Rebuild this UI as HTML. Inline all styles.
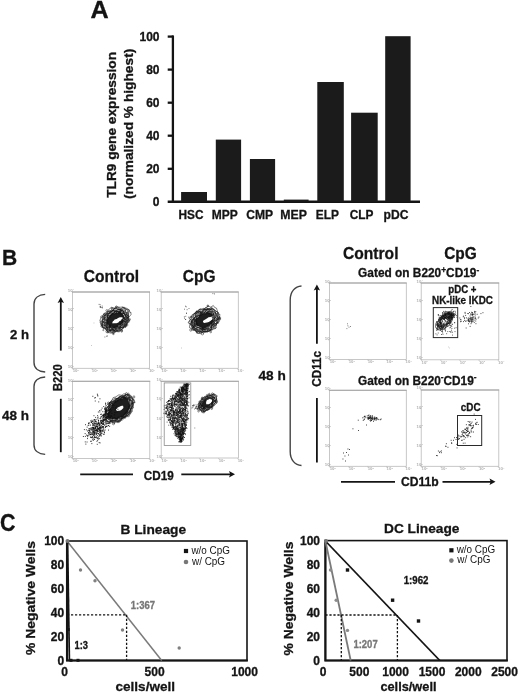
<!DOCTYPE html>
<html><head><meta charset="utf-8"><title>Figure</title>
<style>html,body{margin:0;padding:0;background:#fff}svg{display:block}text{font-family:"Liberation Sans",Arial,sans-serif}</style>
</head><body>
<svg width="520" height="693" viewBox="0 0 520 693">
<rect x="72.4" y="292" width="77.20" height="76.30" fill="#fff" stroke="#bababa" stroke-width="0.8"/>
<path d="M72.0 292 H150.0" stroke="#a2a2a2" stroke-width="1.1"/>
<text x="67.8" y="367.9" font-size="4.3" font-weight="bold" fill="#b0b0b0">10<tspan font-size="2.4" dy="-1.4">0</tspan></text>
<text x="72.7" y="372.2" font-size="4.3" font-weight="bold" fill="#b0b0b0">10<tspan font-size="2.4" dy="-1.4">0</tspan></text>
<text x="67.8" y="348.9" font-size="4.3" font-weight="bold" fill="#b0b0b0">10<tspan font-size="2.4" dy="-1.4">1</tspan></text>
<text x="91.8" y="372.2" font-size="4.3" font-weight="bold" fill="#b0b0b0">10<tspan font-size="2.4" dy="-1.4">1</tspan></text>
<text x="67.8" y="329.8" font-size="4.3" font-weight="bold" fill="#b0b0b0">10<tspan font-size="2.4" dy="-1.4">2</tspan></text>
<text x="110.8" y="372.2" font-size="4.3" font-weight="bold" fill="#b0b0b0">10<tspan font-size="2.4" dy="-1.4">2</tspan></text>
<text x="67.8" y="310.8" font-size="4.3" font-weight="bold" fill="#b0b0b0">10<tspan font-size="2.4" dy="-1.4">3</tspan></text>
<text x="129.9" y="372.2" font-size="4.3" font-weight="bold" fill="#b0b0b0">10<tspan font-size="2.4" dy="-1.4">3</tspan></text>
<text x="67.8" y="291.7" font-size="4.3" font-weight="bold" fill="#b0b0b0">10<tspan font-size="2.4" dy="-1.4">4</tspan></text>
<text x="148.9" y="372.2" font-size="4.3" font-weight="bold" fill="#b0b0b0">10<tspan font-size="2.4" dy="-1.4">4</tspan></text>
<path d="M72.4 367.8h-1.2M72.9 368.3v1.2M72.4 348.8h-1.2M92.0 368.3v1.2M72.4 329.7h-1.2M111.0 368.3v1.2M72.4 310.7h-1.2M130.1 368.3v1.2M72.4 291.6h-1.2M149.1 368.3v1.2" stroke="#b0b0b0" stroke-width="0.6"/>
<rect x="161.2" y="292" width="77.10" height="76.30" fill="#fff" stroke="#bababa" stroke-width="0.8"/>
<path d="M160.79999999999998 292 H238.70000000000002" stroke="#a2a2a2" stroke-width="1.1"/>
<text x="156.6" y="367.9" font-size="4.3" font-weight="bold" fill="#b0b0b0">10<tspan font-size="2.4" dy="-1.4">0</tspan></text>
<text x="161.5" y="372.2" font-size="4.3" font-weight="bold" fill="#b0b0b0">10<tspan font-size="2.4" dy="-1.4">0</tspan></text>
<text x="156.6" y="348.9" font-size="4.3" font-weight="bold" fill="#b0b0b0">10<tspan font-size="2.4" dy="-1.4">1</tspan></text>
<text x="180.5" y="372.2" font-size="4.3" font-weight="bold" fill="#b0b0b0">10<tspan font-size="2.4" dy="-1.4">1</tspan></text>
<text x="156.6" y="329.9" font-size="4.3" font-weight="bold" fill="#b0b0b0">10<tspan font-size="2.4" dy="-1.4">2</tspan></text>
<text x="199.6" y="372.2" font-size="4.3" font-weight="bold" fill="#b0b0b0">10<tspan font-size="2.4" dy="-1.4">2</tspan></text>
<text x="156.6" y="310.8" font-size="4.3" font-weight="bold" fill="#b0b0b0">10<tspan font-size="2.4" dy="-1.4">3</tspan></text>
<text x="218.6" y="372.2" font-size="4.3" font-weight="bold" fill="#b0b0b0">10<tspan font-size="2.4" dy="-1.4">3</tspan></text>
<text x="156.6" y="291.8" font-size="4.3" font-weight="bold" fill="#b0b0b0">10<tspan font-size="2.4" dy="-1.4">4</tspan></text>
<text x="237.6" y="372.2" font-size="4.3" font-weight="bold" fill="#b0b0b0">10<tspan font-size="2.4" dy="-1.4">4</tspan></text>
<path d="M161.2 367.8h-1.2M161.7 368.3v1.2M161.2 348.8h-1.2M180.7 368.3v1.2M161.2 329.8h-1.2M199.8 368.3v1.2M161.2 310.7h-1.2M218.8 368.3v1.2M161.2 291.7h-1.2M237.8 368.3v1.2" stroke="#b0b0b0" stroke-width="0.6"/>
<rect x="72.4" y="381.3" width="77.40" height="77.10" fill="#fff" stroke="#bababa" stroke-width="0.8"/>
<path d="M72.0 381.3 H150.20000000000002" stroke="#a2a2a2" stroke-width="1.1"/>
<text x="67.8" y="458.0" font-size="4.3" font-weight="bold" fill="#b0b0b0">10<tspan font-size="2.4" dy="-1.4">0</tspan></text>
<text x="72.7" y="462.3" font-size="4.3" font-weight="bold" fill="#b0b0b0">10<tspan font-size="2.4" dy="-1.4">0</tspan></text>
<text x="67.8" y="438.9" font-size="4.3" font-weight="bold" fill="#b0b0b0">10<tspan font-size="2.4" dy="-1.4">1</tspan></text>
<text x="91.8" y="462.3" font-size="4.3" font-weight="bold" fill="#b0b0b0">10<tspan font-size="2.4" dy="-1.4">1</tspan></text>
<text x="67.8" y="419.8" font-size="4.3" font-weight="bold" fill="#b0b0b0">10<tspan font-size="2.4" dy="-1.4">2</tspan></text>
<text x="110.9" y="462.3" font-size="4.3" font-weight="bold" fill="#b0b0b0">10<tspan font-size="2.4" dy="-1.4">2</tspan></text>
<text x="67.8" y="400.7" font-size="4.3" font-weight="bold" fill="#b0b0b0">10<tspan font-size="2.4" dy="-1.4">3</tspan></text>
<text x="130.0" y="462.3" font-size="4.3" font-weight="bold" fill="#b0b0b0">10<tspan font-size="2.4" dy="-1.4">3</tspan></text>
<text x="67.8" y="381.6" font-size="4.3" font-weight="bold" fill="#b0b0b0">10<tspan font-size="2.4" dy="-1.4">4</tspan></text>
<text x="149.1" y="462.3" font-size="4.3" font-weight="bold" fill="#b0b0b0">10<tspan font-size="2.4" dy="-1.4">4</tspan></text>
<path d="M72.4 457.9h-1.2M72.9 458.4v1.2M72.4 438.8h-1.2M92.0 458.4v1.2M72.4 419.7h-1.2M111.1 458.4v1.2M72.4 400.6h-1.2M130.2 458.4v1.2M72.4 381.5h-1.2M149.3 458.4v1.2" stroke="#b0b0b0" stroke-width="0.6"/>
<rect x="161.2" y="381.3" width="77.20" height="76.70" fill="#fff" stroke="#bababa" stroke-width="0.8"/>
<path d="M160.79999999999998 381.3 H238.8" stroke="#a2a2a2" stroke-width="1.1"/>
<text x="156.6" y="457.6" font-size="4.3" font-weight="bold" fill="#b0b0b0">10<tspan font-size="2.4" dy="-1.4">0</tspan></text>
<text x="161.5" y="461.9" font-size="4.3" font-weight="bold" fill="#b0b0b0">10<tspan font-size="2.4" dy="-1.4">0</tspan></text>
<text x="156.6" y="438.6" font-size="4.3" font-weight="bold" fill="#b0b0b0">10<tspan font-size="2.4" dy="-1.4">1</tspan></text>
<text x="180.6" y="461.9" font-size="4.3" font-weight="bold" fill="#b0b0b0">10<tspan font-size="2.4" dy="-1.4">1</tspan></text>
<text x="156.6" y="419.5" font-size="4.3" font-weight="bold" fill="#b0b0b0">10<tspan font-size="2.4" dy="-1.4">2</tspan></text>
<text x="199.6" y="461.9" font-size="4.3" font-weight="bold" fill="#b0b0b0">10<tspan font-size="2.4" dy="-1.4">2</tspan></text>
<text x="156.6" y="400.4" font-size="4.3" font-weight="bold" fill="#b0b0b0">10<tspan font-size="2.4" dy="-1.4">3</tspan></text>
<text x="218.7" y="461.9" font-size="4.3" font-weight="bold" fill="#b0b0b0">10<tspan font-size="2.4" dy="-1.4">3</tspan></text>
<text x="156.6" y="381.4" font-size="4.3" font-weight="bold" fill="#b0b0b0">10<tspan font-size="2.4" dy="-1.4">4</tspan></text>
<text x="237.7" y="461.9" font-size="4.3" font-weight="bold" fill="#b0b0b0">10<tspan font-size="2.4" dy="-1.4">4</tspan></text>
<path d="M161.2 457.5h-1.2M161.7 458.0v1.2M161.2 438.4h-1.2M180.8 458.0v1.2M161.2 419.4h-1.2M199.8 458.0v1.2M161.2 400.3h-1.2M218.8 458.0v1.2M161.2 381.3h-1.2M237.9 458.0v1.2" stroke="#b0b0b0" stroke-width="0.6"/>
<rect x="329.4" y="283" width="76.90" height="76.40" fill="#fff" stroke="#bababa" stroke-width="0.8"/>
<path d="M329.0 283 H406.7" stroke="#a2a2a2" stroke-width="1.1"/>
<text x="324.8" y="359.0" font-size="4.3" font-weight="bold" fill="#b0b0b0">10<tspan font-size="2.4" dy="-1.4">0</tspan></text>
<text x="329.7" y="363.3" font-size="4.3" font-weight="bold" fill="#b0b0b0">10<tspan font-size="2.4" dy="-1.4">0</tspan></text>
<text x="324.8" y="340.0" font-size="4.3" font-weight="bold" fill="#b0b0b0">10<tspan font-size="2.4" dy="-1.4">1</tspan></text>
<text x="348.7" y="363.3" font-size="4.3" font-weight="bold" fill="#b0b0b0">10<tspan font-size="2.4" dy="-1.4">1</tspan></text>
<text x="324.8" y="321.0" font-size="4.3" font-weight="bold" fill="#b0b0b0">10<tspan font-size="2.4" dy="-1.4">2</tspan></text>
<text x="367.7" y="363.3" font-size="4.3" font-weight="bold" fill="#b0b0b0">10<tspan font-size="2.4" dy="-1.4">2</tspan></text>
<text x="324.8" y="302.1" font-size="4.3" font-weight="bold" fill="#b0b0b0">10<tspan font-size="2.4" dy="-1.4">3</tspan></text>
<text x="386.6" y="363.3" font-size="4.3" font-weight="bold" fill="#b0b0b0">10<tspan font-size="2.4" dy="-1.4">3</tspan></text>
<text x="324.8" y="283.1" font-size="4.3" font-weight="bold" fill="#b0b0b0">10<tspan font-size="2.4" dy="-1.4">4</tspan></text>
<text x="405.6" y="363.3" font-size="4.3" font-weight="bold" fill="#b0b0b0">10<tspan font-size="2.4" dy="-1.4">4</tspan></text>
<path d="M329.4 358.9h-1.2M329.9 359.4v1.2M329.4 339.9h-1.2M348.9 359.4v1.2M329.4 320.9h-1.2M367.9 359.4v1.2M329.4 302.0h-1.2M386.8 359.4v1.2M329.4 283.0h-1.2M405.8 359.4v1.2" stroke="#b0b0b0" stroke-width="0.6"/>
<rect x="421.2" y="283" width="77.60" height="76.80" fill="#fff" stroke="#bababa" stroke-width="0.8"/>
<path d="M420.8 283 H499.2" stroke="#a2a2a2" stroke-width="1.1"/>
<text x="416.6" y="359.4" font-size="4.3" font-weight="bold" fill="#b0b0b0">10<tspan font-size="2.4" dy="-1.4">0</tspan></text>
<text x="421.5" y="363.7" font-size="4.3" font-weight="bold" fill="#b0b0b0">10<tspan font-size="2.4" dy="-1.4">0</tspan></text>
<text x="416.6" y="340.2" font-size="4.3" font-weight="bold" fill="#b0b0b0">10<tspan font-size="2.4" dy="-1.4">1</tspan></text>
<text x="440.7" y="363.7" font-size="4.3" font-weight="bold" fill="#b0b0b0">10<tspan font-size="2.4" dy="-1.4">1</tspan></text>
<text x="416.6" y="321.1" font-size="4.3" font-weight="bold" fill="#b0b0b0">10<tspan font-size="2.4" dy="-1.4">2</tspan></text>
<text x="459.8" y="363.7" font-size="4.3" font-weight="bold" fill="#b0b0b0">10<tspan font-size="2.4" dy="-1.4">2</tspan></text>
<text x="416.6" y="302.0" font-size="4.3" font-weight="bold" fill="#b0b0b0">10<tspan font-size="2.4" dy="-1.4">3</tspan></text>
<text x="478.9" y="363.7" font-size="4.3" font-weight="bold" fill="#b0b0b0">10<tspan font-size="2.4" dy="-1.4">3</tspan></text>
<text x="416.6" y="282.8" font-size="4.3" font-weight="bold" fill="#b0b0b0">10<tspan font-size="2.4" dy="-1.4">4</tspan></text>
<text x="498.1" y="363.7" font-size="4.3" font-weight="bold" fill="#b0b0b0">10<tspan font-size="2.4" dy="-1.4">4</tspan></text>
<path d="M421.2 359.3h-1.2M421.7 359.8v1.2M421.2 340.1h-1.2M440.9 359.8v1.2M421.2 321.0h-1.2M460.0 359.8v1.2M421.2 301.9h-1.2M479.1 359.8v1.2M421.2 282.7h-1.2M498.3 359.8v1.2" stroke="#b0b0b0" stroke-width="0.6"/>
<rect x="329.4" y="390.3" width="76.90" height="76.00" fill="#fff" stroke="#bababa" stroke-width="0.8"/>
<path d="M329.0 390.3 H406.7" stroke="#a2a2a2" stroke-width="1.1"/>
<text x="324.8" y="465.9" font-size="4.3" font-weight="bold" fill="#b0b0b0">10<tspan font-size="2.4" dy="-1.4">0</tspan></text>
<text x="329.7" y="470.2" font-size="4.3" font-weight="bold" fill="#b0b0b0">10<tspan font-size="2.4" dy="-1.4">0</tspan></text>
<text x="324.8" y="446.9" font-size="4.3" font-weight="bold" fill="#b0b0b0">10<tspan font-size="2.4" dy="-1.4">1</tspan></text>
<text x="348.7" y="470.2" font-size="4.3" font-weight="bold" fill="#b0b0b0">10<tspan font-size="2.4" dy="-1.4">1</tspan></text>
<text x="324.8" y="428.0" font-size="4.3" font-weight="bold" fill="#b0b0b0">10<tspan font-size="2.4" dy="-1.4">2</tspan></text>
<text x="367.7" y="470.2" font-size="4.3" font-weight="bold" fill="#b0b0b0">10<tspan font-size="2.4" dy="-1.4">2</tspan></text>
<text x="324.8" y="409.0" font-size="4.3" font-weight="bold" fill="#b0b0b0">10<tspan font-size="2.4" dy="-1.4">3</tspan></text>
<text x="386.6" y="470.2" font-size="4.3" font-weight="bold" fill="#b0b0b0">10<tspan font-size="2.4" dy="-1.4">3</tspan></text>
<text x="324.8" y="390.0" font-size="4.3" font-weight="bold" fill="#b0b0b0">10<tspan font-size="2.4" dy="-1.4">4</tspan></text>
<text x="405.6" y="470.2" font-size="4.3" font-weight="bold" fill="#b0b0b0">10<tspan font-size="2.4" dy="-1.4">4</tspan></text>
<path d="M329.4 465.8h-1.2M329.9 466.3v1.2M329.4 446.8h-1.2M348.9 466.3v1.2M329.4 427.9h-1.2M367.9 466.3v1.2M329.4 408.9h-1.2M386.8 466.3v1.2M329.4 389.9h-1.2M405.8 466.3v1.2" stroke="#b0b0b0" stroke-width="0.6"/>
<rect x="421.2" y="390" width="77.60" height="76.30" fill="#fff" stroke="#bababa" stroke-width="0.8"/>
<path d="M420.8 390 H499.2" stroke="#a2a2a2" stroke-width="1.1"/>
<text x="416.6" y="465.9" font-size="4.3" font-weight="bold" fill="#b0b0b0">10<tspan font-size="2.4" dy="-1.4">0</tspan></text>
<text x="421.5" y="470.2" font-size="4.3" font-weight="bold" fill="#b0b0b0">10<tspan font-size="2.4" dy="-1.4">0</tspan></text>
<text x="416.6" y="446.8" font-size="4.3" font-weight="bold" fill="#b0b0b0">10<tspan font-size="2.4" dy="-1.4">1</tspan></text>
<text x="440.7" y="470.2" font-size="4.3" font-weight="bold" fill="#b0b0b0">10<tspan font-size="2.4" dy="-1.4">1</tspan></text>
<text x="416.6" y="427.6" font-size="4.3" font-weight="bold" fill="#b0b0b0">10<tspan font-size="2.4" dy="-1.4">2</tspan></text>
<text x="459.8" y="470.2" font-size="4.3" font-weight="bold" fill="#b0b0b0">10<tspan font-size="2.4" dy="-1.4">2</tspan></text>
<text x="416.6" y="408.5" font-size="4.3" font-weight="bold" fill="#b0b0b0">10<tspan font-size="2.4" dy="-1.4">3</tspan></text>
<text x="478.9" y="470.2" font-size="4.3" font-weight="bold" fill="#b0b0b0">10<tspan font-size="2.4" dy="-1.4">3</tspan></text>
<text x="416.6" y="389.3" font-size="4.3" font-weight="bold" fill="#b0b0b0">10<tspan font-size="2.4" dy="-1.4">4</tspan></text>
<text x="498.1" y="470.2" font-size="4.3" font-weight="bold" fill="#b0b0b0">10<tspan font-size="2.4" dy="-1.4">4</tspan></text>
<path d="M421.2 465.8h-1.2M421.7 466.3v1.2M421.2 446.6h-1.2M440.9 466.3v1.2M421.2 427.5h-1.2M460.0 466.3v1.2M421.2 408.4h-1.2M479.1 466.3v1.2M421.2 389.2h-1.2M498.3 466.3v1.2" stroke="#b0b0b0" stroke-width="0.6"/>
<text x="90.6" y="17.7" font-size="23.3" font-weight="bold" fill="#141414" stroke="#141414" stroke-width="0.3" textLength="18.2" lengthAdjust="spacingAndGlyphs">A</text>
<path d="M172.9 35.4 V201.8 " fill="none" stroke="#141414" stroke-width="2.3"/>
<path d="M167.70000000000002 201.8 H420" fill="none" stroke="#141414" stroke-width="2.5"/>
<path d="M167.70000000000002 168.8 H172.9" stroke="#141414" stroke-width="2.3"/>
<path d="M167.70000000000002 135.7 H172.9" stroke="#141414" stroke-width="2.3"/>
<path d="M167.70000000000002 102.7 H172.9" stroke="#141414" stroke-width="2.3"/>
<path d="M167.70000000000002 69.6 H172.9" stroke="#141414" stroke-width="2.3"/>
<path d="M167.70000000000002 36.6 H172.9" stroke="#141414" stroke-width="2.3"/>
<text x="159.5" y="206.4" font-size="12" font-weight="bold" fill="#141414" stroke="#141414" stroke-width="0.3" text-anchor="end">0</text>
<text x="159.5" y="173.4" font-size="12" font-weight="bold" fill="#141414" stroke="#141414" stroke-width="0.3" text-anchor="end">20</text>
<text x="159.5" y="140.3" font-size="12" font-weight="bold" fill="#141414" stroke="#141414" stroke-width="0.3" text-anchor="end">40</text>
<text x="159.5" y="107.3" font-size="12" font-weight="bold" fill="#141414" stroke="#141414" stroke-width="0.3" text-anchor="end">60</text>
<text x="159.5" y="74.2" font-size="12" font-weight="bold" fill="#141414" stroke="#141414" stroke-width="0.3" text-anchor="end">80</text>
<text x="159.5" y="41.2" font-size="12" font-weight="bold" fill="#141414" stroke="#141414" stroke-width="0.3" text-anchor="end">100</text>
<rect x="181.1" y="192" width="25.9" height="9.8" fill="#1b1b1b"/>
<text x="178.5" y="218.9" font-size="12.4" font-weight="bold" fill="#141414" stroke="#141414" stroke-width="0.3" textLength="25.0" lengthAdjust="spacingAndGlyphs">HSC</text>
<rect x="215.8" y="139.6" width="25.3" height="62.2" fill="#1b1b1b"/>
<text x="211.8" y="218.9" font-size="12.4" font-weight="bold" fill="#141414" stroke="#141414" stroke-width="0.3" textLength="26.0" lengthAdjust="spacingAndGlyphs">MPP</text>
<rect x="249.9" y="159" width="25.2" height="42.8" fill="#1b1b1b"/>
<text x="246.2" y="218.9" font-size="12.4" font-weight="bold" fill="#141414" stroke="#141414" stroke-width="0.3" textLength="26.9" lengthAdjust="spacingAndGlyphs">CMP</text>
<rect x="283.8" y="199.6" width="24.8" height="2.2" fill="#1b1b1b"/>
<text x="280.3" y="218.9" font-size="12.4" font-weight="bold" fill="#141414" stroke="#141414" stroke-width="0.3" textLength="26.6" lengthAdjust="spacingAndGlyphs">MEP</text>
<rect x="317.3" y="82" width="26.5" height="119.8" fill="#1b1b1b"/>
<text x="315.8" y="218.9" font-size="12.4" font-weight="bold" fill="#141414" stroke="#141414" stroke-width="0.3" textLength="23.1" lengthAdjust="spacingAndGlyphs">ELP</text>
<rect x="351.1" y="112.7" width="26.6" height="89.1" fill="#1b1b1b"/>
<text x="349.7" y="218.9" font-size="12.4" font-weight="bold" fill="#141414" stroke="#141414" stroke-width="0.3" textLength="23.7" lengthAdjust="spacingAndGlyphs">CLP</text>
<rect x="385.2" y="36.2" width="25.4" height="165.6" fill="#1b1b1b"/>
<text x="383.5" y="218.9" font-size="12.4" font-weight="bold" fill="#141414" stroke="#141414" stroke-width="0.3" textLength="24.9" lengthAdjust="spacingAndGlyphs">pDC</text>
<text transform="translate(116.3 197.8) rotate(-90)" font-size="13.4" font-weight="bold" fill="#141414" stroke="#141414" stroke-width="0.3" textLength="145.8" lengthAdjust="spacingAndGlyphs">TLR9 gene expression</text>
<text transform="translate(133.4 199) rotate(-90)" font-size="13.4" font-weight="bold" fill="#141414" stroke="#141414" stroke-width="0.3" textLength="150.3" lengthAdjust="spacingAndGlyphs">(normalized % highest)</text>
<text x="2" y="264.6" font-size="22.3" font-weight="bold" fill="#141414" stroke="#141414" stroke-width="0.3" textLength="15.2" lengthAdjust="spacingAndGlyphs">B</text>
<text x="83.8" y="282" font-size="16.8" font-weight="bold" fill="#141414" stroke="#141414" stroke-width="0.3" textLength="55.4" lengthAdjust="spacingAndGlyphs">Control</text>
<text x="182.8" y="282" font-size="16.8" font-weight="bold" fill="#141414" stroke="#141414" stroke-width="0.3" textLength="32.7" lengthAdjust="spacingAndGlyphs">CpG</text>
<text x="343" y="258.8" font-size="16.8" font-weight="bold" fill="#141414" stroke="#141414" stroke-width="0.3" textLength="55.5" lengthAdjust="spacingAndGlyphs">Control</text>
<text x="444.2" y="258.8" font-size="16.8" font-weight="bold" fill="#141414" stroke="#141414" stroke-width="0.3" textLength="32.6" lengthAdjust="spacingAndGlyphs">CpG</text>
<text x="10" y="339" font-size="13.3" font-weight="bold" fill="#141414" stroke="#141414" stroke-width="0.3" textLength="19.0" lengthAdjust="spacingAndGlyphs">2 h</text>
<text x="2" y="419.5" font-size="13.3" font-weight="bold" fill="#141414" stroke="#141414" stroke-width="0.3" textLength="27.0" lengthAdjust="spacingAndGlyphs">48 h</text>
<text x="258.5" y="380" font-size="13.5" font-weight="bold" fill="#141414" stroke="#141414" stroke-width="0.3" textLength="27.3" lengthAdjust="spacingAndGlyphs">48 h</text>
<text x="358.1" y="277.3" font-size="12.2" font-weight="bold" fill="#141414" stroke="#141414" stroke-width="0.3" textLength="121.1" lengthAdjust="spacingAndGlyphs">Gated on B220<tspan font-size="8.5" dy="-4.6">+</tspan><tspan dy="4.6">CD19</tspan><tspan font-size="8.5" dy="-4.6">-</tspan></text>
<text x="358.1" y="385" font-size="12.2" font-weight="bold" fill="#141414" stroke="#141414" stroke-width="0.3" textLength="118.4" lengthAdjust="spacingAndGlyphs">Gated on B220<tspan font-size="8.5" dy="-4.6">-</tspan><tspan dy="4.6">CD19</tspan><tspan font-size="8.5" dy="-4.6">-</tspan></text>
<text x="448.3" y="292.5" font-size="10.3" font-weight="bold" fill="#141414" stroke="#141414" stroke-width="0.3" textLength="28.2" lengthAdjust="spacingAndGlyphs">pDC +</text>
<text x="432" y="303.8" font-size="10.3" font-weight="bold" fill="#141414" stroke="#141414" stroke-width="0.3" textLength="61.0" lengthAdjust="spacingAndGlyphs">NK-like IKDC</text>
<text x="460.8" y="410.8" font-size="10.3" font-weight="bold" fill="#141414" stroke="#141414" stroke-width="0.3" textLength="19.7" lengthAdjust="spacingAndGlyphs">cDC</text>
<text x="143.8" y="479.5" font-size="12.3" font-weight="bold" fill="#141414" stroke="#141414" stroke-width="0.3" textLength="30.0" lengthAdjust="spacingAndGlyphs">CD19</text>
<text x="401" y="486.3" font-size="12.3" font-weight="bold" fill="#141414" stroke="#141414" stroke-width="0.3" textLength="37.8" lengthAdjust="spacingAndGlyphs">CD11b</text>
<text transform="translate(61.8 391.1) rotate(-90)" font-size="12.4" font-weight="bold" fill="#141414" stroke="#141414" stroke-width="0.3" textLength="26.9" lengthAdjust="spacingAndGlyphs">B220</text>
<text transform="translate(320.6 386.7) rotate(-90)" font-size="12.4" font-weight="bold" fill="#141414" stroke="#141414" stroke-width="0.3" textLength="35.8" lengthAdjust="spacingAndGlyphs">CD11c</text>
<path d="M45.2 294.4 C39.0 294.79999999999995 34.0 297.91499999999996 34.0 303.9 V362.5 C34.0 368.485 39.0 371.6 45.2 372" fill="none" stroke="#444" stroke-width="1.4"/>
<path d="M45.2 377 C39.0 377.4 34.0 380.515 34.0 386.5 V444.9 C34.0 450.885 39.0 454.0 45.2 454.4" fill="none" stroke="#444" stroke-width="1.4"/>
<path d="M301.5 286 C295.2 286.4 290.2 291.18 290.2 300 V451.5 C290.2 460.32 295.2 465.1 301.5 465.5" fill="none" stroke="#444" stroke-width="1.4"/>
<path d="M60.8 301 V350.6" stroke="#141414" stroke-width="1.8"/>
<path d="M60.8 297 L57.599999999999994 303.0 L60.8 301.8 L64.0 303.0 Z" fill="#141414"/>
<path d="M60.8 398.8 L60.8 452.2" stroke="#141414" stroke-width="1.8" fill="none" />
<path d="M316.9 288.5 V343.7" stroke="#141414" stroke-width="1.8"/>
<path d="M316.9 284.5 L313.7 290.5 L316.9 289.3 L320.09999999999997 290.5 Z" fill="#141414"/>
<path d="M316.9 397.9 L316.9 462.5" stroke="#141414" stroke-width="1.8" fill="none" />
<path d="M80.2 474.3 L133 474.3" stroke="#141414" stroke-width="1.8" fill="none" />
<path d="M181.3 474.3 H231" stroke="#141414" stroke-width="1.8"/>
<path d="M235 474.3 L229.0 471.1 L230.2 474.3 L229.0 477.5 Z" fill="#141414"/>
<path d="M341 481.8 L395 481.8" stroke="#141414" stroke-width="1.8" fill="none" />
<path d="M442.5 481.8 H491.5" stroke="#141414" stroke-width="1.8"/>
<path d="M495.5 481.8 L489.5 478.6 L490.7 481.8 L489.5 485.0 Z" fill="#141414"/>
<path d="M123.8 316.2 L123.9 316.7 L124.1 318.3 L124.0 318.5 L123.2 319.7 L123.8 321.1 L122.7 322.9 L123.2 322.9 L121.9 323.4 L120.7 325.1 L119.6 325.3 L118.7 325.6 L118.2 326.5 L117.7 326.9 L116.4 327.5 L115.2 327.8 L113.9 328.8 L113.6 327.9 L112.0 327.0 L110.6 326.8 L109.9 327.0 L109.5 326.5 L108.8 326.1 L108.0 324.0 L107.2 324.9 L107.1 324.0 L106.3 322.0 L106.9 321.7 L106.1 320.1 L106.9 320.2 L107.4 317.9 L107.4 317.3 L108.4 317.5 L109.2 316.3 L110.1 314.9 L111.3 313.9 L112.1 313.3 L113.0 313.0 L114.4 313.8 L115.8 312.5 L117.0 312.1 L118.0 313.1 L119.1 311.8 L120.9 311.8 L121.4 313.3 L122.1 313.3 L122.3 314.0 L123.5 314.8Z M122.8 317.8 L122.5 318.9 L121.5 319.5 L121.1 320.6 L119.4 321.3 L118.4 322.4 L116.5 323.2 L115.3 323.2 L113.7 323.2 L112.8 323.6 L112.3 323.0 L112.4 322.4 L112.9 321.3 L113.7 320.7 L114.7 319.6 L116.6 318.9 L118.1 317.9 L119.8 317.2 L120.8 317.3 L121.9 317.2Z" fill="#1e1e1e" fill-rule="evenodd"/>
<path d="M122.6 316.3 L125.3 318.0 L124.4 318.6 L123.4 318.3 L121.7 319.7 L124.3 321.3 L123.0 320.4 L122.1 322.8 L121.5 323.1 L121.1 323.0 L119.9 325.8 L119.9 326.0 L118.4 326.8 L117.4 325.8 L116.4 327.8 L115.2 326.7 L114.4 328.1 L112.4 327.8 L110.8 327.6 L110.0 325.5 L110.6 326.9 L110.4 325.2 L108.7 325.1 L108.3 323.5 L108.0 321.6 L107.4 320.7 L107.6 321.1 L107.0 321.1 L107.8 319.7 L108.8 317.3 L107.1 317.6 L109.3 315.7 L109.7 317.2 L111.2 314.8 L112.6 313.6 L112.9 312.9 L114.1 314.2 L116.6 313.5 L116.1 313.4 L116.5 312.5 L118.7 314.3 L120.5 313.7 L121.4 312.7 L120.8 314.2 L121.8 314.0 L123.3 315.7Z M125.0 315.4 L122.5 316.5 L124.4 316.7 L124.4 319.2 L123.3 321.2 L121.4 320.9 L122.0 321.1 L122.8 322.2 L120.4 323.6 L121.4 324.9 L120.6 326.2 L120.3 327.2 L117.9 325.9 L116.2 326.4 L114.3 328.0 L114.5 326.7 L112.4 327.7 L112.6 327.4 L111.7 327.6 L110.4 327.4 L110.0 324.6 L110.0 325.5 L107.1 325.2 L108.2 325.0 L106.8 323.6 L108.0 322.6 L107.5 320.7 L106.5 319.4 L107.6 319.8 L107.9 318.6 L107.9 318.7 L110.9 317.2 L110.5 316.6 L111.0 316.4 L112.5 313.6 L111.7 313.9 L114.3 313.6 L114.5 311.5 L116.6 311.1 L117.9 311.4 L118.7 313.4 L118.7 312.1 L121.5 313.4 L123.3 313.5 L124.1 313.6 L124.2 313.6Z M125.5 315.8 L125.3 317.7 L124.6 317.6 L124.6 320.2 L124.9 319.1 L125.4 322.1 L123.7 322.6 L122.1 323.9 L122.0 324.5 L120.3 326.7 L119.8 325.4 L119.7 326.2 L118.1 327.6 L115.8 328.4 L115.8 329.5 L115.0 327.4 L112.5 327.5 L112.0 329.1 L111.6 327.3 L108.9 326.8 L109.7 327.5 L107.8 326.9 L106.3 324.8 L106.8 324.9 L106.1 323.2 L106.1 321.3 L106.3 320.2 L106.1 319.7 L106.1 319.7 L107.0 318.0 L107.7 317.4 L107.3 315.9 L109.6 315.3 L110.6 315.1 L112.0 314.3 L112.2 314.0 L115.1 313.4 L114.4 312.4 L117.0 311.2 L119.3 312.6 L117.7 312.1 L120.4 311.6 L120.7 314.1 L122.6 314.0 L122.5 314.0 L124.2 313.3Z M125.6 314.2 L125.6 317.4 L125.8 318.3 L124.2 318.4 L123.6 319.6 L124.6 321.4 L123.5 321.5 L121.9 323.1 L123.6 325.2 L121.8 323.8 L119.7 327.6 L119.3 327.4 L117.6 327.5 L116.8 328.0 L115.2 327.5 L115.0 329.7 L112.0 329.3 L112.1 328.1 L109.5 327.5 L109.1 326.2 L110.0 327.1 L108.7 326.9 L107.2 325.1 L106.7 324.5 L107.7 323.7 L106.1 323.7 L107.1 321.8 L106.8 319.7 L107.7 319.7 L107.4 318.5 L107.8 316.4 L108.0 314.6 L108.5 315.0 L108.5 314.2 L111.6 313.3 L112.2 314.0 L114.0 311.8 L115.5 312.2 L116.3 311.8 L119.1 311.7 L119.9 312.2 L121.1 310.0 L122.4 312.5 L122.2 312.8 L122.3 313.4 L123.6 313.8Z M126.1 316.5 L126.6 317.7 L126.7 318.4 L125.1 319.8 L125.8 318.9 L125.6 320.2 L123.6 321.8 L123.2 323.8 L121.6 326.0 L121.3 325.6 L120.7 326.1 L119.3 328.2 L118.2 327.7 L117.2 328.0 L114.1 328.9 L112.6 328.8 L113.3 328.5 L112.7 329.0 L109.7 330.3 L109.7 326.5 L109.1 326.7 L107.9 327.7 L106.1 326.0 L107.4 324.8 L106.2 324.9 L106.5 322.5 L104.9 322.2 L105.3 319.6 L104.8 319.7 L105.1 318.2 L106.8 316.3 L106.8 316.0 L108.6 315.3 L110.4 315.0 L112.5 313.3 L111.3 312.1 L115.0 312.4 L115.2 311.1 L116.1 311.9 L118.2 311.2 L120.0 311.7 L119.6 311.2 L123.7 312.3 L123.6 310.9 L122.9 313.2 L125.0 314.6Z M125.3 316.0 L126.8 316.6 L126.2 317.7 L125.4 318.9 L126.9 320.8 L124.0 321.1 L125.9 322.7 L124.5 323.0 L122.7 324.5 L122.5 325.2 L121.6 327.5 L119.0 327.5 L119.3 328.7 L116.6 328.5 L115.0 330.8 L112.5 329.3 L112.7 329.7 L111.4 328.8 L110.1 327.7 L108.3 329.2 L106.5 327.8 L107.6 327.2 L105.2 325.4 L105.6 325.6 L104.6 323.1 L105.7 322.6 L106.5 322.1 L106.0 319.7 L106.0 318.3 L105.5 317.9 L108.3 317.2 L106.7 315.6 L107.8 314.2 L108.9 313.1 L109.8 312.7 L112.7 311.3 L114.4 311.0 L114.6 312.2 L117.2 310.2 L116.8 311.6 L119.6 311.1 L122.2 310.9 L122.5 310.1 L123.9 312.8 L123.0 312.5 L126.4 314.7Z M127.3 315.0 L126.0 315.8 L127.7 317.3 L127.4 318.3 L126.8 321.6 L126.6 321.4 L125.9 323.4 L125.6 324.9 L123.6 326.1 L122.9 326.7 L121.9 327.2 L121.1 328.2 L118.8 328.3 L117.9 329.8 L115.3 329.8 L113.4 331.2 L113.5 329.2 L109.9 329.5 L109.3 328.9 L109.1 327.2 L106.4 327.5 L107.1 327.8 L104.4 325.6 L105.2 325.4 L105.3 322.4 L103.3 322.5 L103.5 321.3 L105.4 320.3 L104.2 318.6 L104.9 317.3 L106.8 315.9 L107.5 316.0 L107.5 313.5 L110.3 313.3 L110.0 312.2 L113.0 310.7 L112.3 310.3 L116.5 311.1 L116.3 310.8 L117.9 309.8 L121.1 310.1 L120.0 309.7 L122.4 310.8 L124.8 312.1 L124.7 311.8 L124.7 313.7Z M127.9 315.7 L126.8 316.4 L127.0 318.5 L126.7 320.2 L128.4 320.7 L125.2 321.6 L125.5 321.7 L124.2 324.0 L124.4 324.7 L122.9 325.3 L122.0 326.9 L120.8 327.1 L119.3 328.4 L117.3 330.1 L115.1 331.5 L113.3 330.2 L111.2 330.4 L111.1 330.7 L109.4 330.4 L107.2 329.3 L107.7 329.5 L107.3 327.4 L104.1 326.7 L104.9 324.5 L104.4 324.0 L103.5 324.7 L104.6 320.6 L104.4 319.7 L104.3 319.2 L104.1 317.4 L105.1 316.7 L105.1 314.3 L107.7 313.0 L110.1 312.5 L110.8 311.6 L112.3 310.3 L112.1 310.4 L115.7 310.7 L115.8 310.0 L119.3 309.6 L118.6 309.6 L120.2 309.6 L122.3 309.7 L125.4 310.6 L125.8 312.5 L127.5 313.8Z M126.7 314.5 L128.9 316.8 L128.4 317.5 L126.8 317.6 L126.2 320.1 L126.3 320.5 L125.6 323.2 L126.2 324.8 L124.0 324.7 L124.2 327.5 L121.8 327.5 L120.0 328.1 L120.0 330.7 L117.5 330.8 L116.0 329.4 L115.2 330.5 L111.1 330.1 L110.2 331.2 L109.5 329.7 L108.8 328.7 L106.5 327.7 L107.0 326.0 L106.6 326.0 L104.9 325.5 L103.7 325.7 L104.6 323.4 L102.5 320.8 L103.5 319.4 L104.2 317.8 L104.9 318.2 L104.5 316.6 L104.7 314.2 L107.3 315.3 L110.1 312.6 L110.1 312.6 L112.2 310.6 L113.9 311.0 L113.5 309.5 L116.2 308.5 L118.3 309.6 L119.3 309.9 L121.2 310.3 L123.1 310.8 L124.0 311.7 L126.2 313.0 L127.8 312.5Z M128.6 314.6 L128.3 317.1 L129.2 317.8 L127.7 318.7 L128.4 321.2 L127.3 321.8 L126.7 324.2 L124.4 323.6 L125.4 326.5 L124.0 327.0 L122.5 327.5 L120.3 328.1 L118.0 330.4 L117.2 330.5 L114.7 332.2 L113.6 330.9 L111.5 331.5 L109.4 330.3 L110.8 330.9 L109.0 330.0 L107.2 329.3 L105.5 328.7 L105.3 327.9 L102.9 327.2 L101.9 325.3 L103.0 321.6 L101.8 321.6 L102.0 319.5 L104.7 319.1 L103.5 317.1 L104.3 314.7 L105.1 316.1 L106.6 313.7 L110.2 313.1 L109.7 310.8 L111.6 311.9 L113.9 308.8 L115.7 308.8 L116.3 308.5 L120.0 309.9 L119.8 309.6 L122.0 310.2 L122.6 308.7 L126.2 309.1 L128.3 311.6 L127.5 311.6Z M126.5 314.1 L128.0 316.4 L127.4 316.8 L128.2 319.4 L129.1 319.6 L128.9 322.6 L127.1 322.6 L126.1 326.0 L125.1 325.4 L123.6 326.2 L123.6 328.0 L121.1 329.9 L118.3 331.5 L116.6 330.7 L115.8 329.7 L113.7 331.7 L111.4 330.5 L110.4 329.9 L110.5 331.3 L106.2 330.7 L106.4 329.1 L105.7 328.2 L102.9 328.1 L102.9 325.8 L102.9 325.5 L102.1 323.4 L103.3 321.9 L103.3 321.4 L102.8 319.9 L103.2 318.0 L103.9 316.0 L106.6 314.8 L107.3 312.3 L108.1 311.6 L110.2 311.3 L110.6 311.3 L113.8 309.4 L115.5 307.2 L115.5 306.9 L118.9 307.2 L120.5 307.2 L122.8 307.0 L125.1 309.0 L125.8 311.0 L125.4 311.0 L126.3 311.9Z M128.5 314.2 L128.4 316.7 L128.0 316.8 L128.5 319.5 L130.1 320.6 L127.2 322.2 L126.8 322.9 L126.8 323.1 L125.2 326.7 L124.4 325.9 L122.6 329.2 L119.5 329.7 L119.9 329.5 L117.0 331.3 L114.9 331.2 L113.2 334.2 L112.8 332.7 L109.1 331.8 L108.3 330.7 L107.7 331.5 L105.7 329.1 L106.5 328.0 L102.8 327.6 L102.7 325.0 L101.8 325.7 L102.6 323.3 L102.6 321.4 L102.3 321.3 L102.7 319.6 L102.3 317.1 L103.1 316.0 L103.6 313.7 L105.4 312.9 L107.3 311.6 L111.0 310.5 L111.9 308.8 L112.4 308.4 L115.3 308.2 L115.7 307.5 L117.7 308.1 L120.9 309.4 L122.9 307.5 L123.9 307.9 L127.3 308.4 L128.8 310.6 L129.1 310.3Z M130.9 312.3 L131.0 314.7 L128.8 317.1 L128.1 317.8 L127.8 320.9 L126.7 322.0 L127.4 323.7 L126.2 326.0 L125.5 327.5 L124.4 326.9 L121.8 328.8 L121.4 329.5 L119.5 331.9 L116.6 331.6 L114.9 332.1 L112.0 332.3 L112.1 332.9 L111.2 333.2 L108.0 332.4 L107.5 329.8 L106.2 330.2 L106.0 329.2 L103.2 328.2 L101.9 326.5 L101.5 324.0 L101.0 323.3 L100.7 321.5 L99.9 320.5 L100.9 317.8 L102.5 316.1 L102.5 315.6 L104.4 313.4 L106.7 313.1 L108.0 311.7 L107.9 310.4 L110.2 308.3 L112.3 307.6 L115.1 308.5 L116.6 307.7 L117.7 306.9 L121.0 308.8 L122.8 307.2 L124.8 307.4 L126.6 309.5 L129.0 309.4 L130.0 312.5Z" fill="none" stroke="#151515" stroke-width="0.55"/>
<path d="M111.0 307.9a0.7 0.7 0 1 0 1.4 0a0.7 0.7 0 1 0 -1.4 0 M105.8 331.7a0.9 0.9 0 1 0 1.9 0a0.9 0.9 0 1 0 -1.9 0 M107.3 332.3a0.6 0.6 0 1 0 1.1 0a0.6 0.6 0 1 0 -1.1 0 M100.8 326.2a1.0 1.0 0 1 0 2.0 0a1.0 1.0 0 1 0 -2.0 0 M126.3 325.0a0.8 0.8 0 1 0 1.7 0a0.8 0.8 0 1 0 -1.7 0 M121.1 330.7a0.7 0.7 0 1 0 1.4 0a0.7 0.7 0 1 0 -1.4 0 M120.9 331.1a0.8 0.8 0 1 0 1.5 0a0.8 0.8 0 1 0 -1.5 0 M100.6 316.9a1.0 1.0 0 1 0 2.0 0a1.0 1.0 0 1 0 -2.0 0 M112.8 333.7a0.7 0.7 0 1 0 1.3 0a0.7 0.7 0 1 0 -1.3 0 M105.9 310.6a1.0 1.0 0 1 0 2.0 0a1.0 1.0 0 1 0 -2.0 0 M115.6 306.6a0.7 0.7 0 1 0 1.5 0a0.7 0.7 0 1 0 -1.5 0 M100.1 322.1a0.9 0.9 0 1 0 1.7 0a0.9 0.9 0 1 0 -1.7 0 M100.7 324.3a0.7 0.7 0 1 0 1.3 0a0.7 0.7 0 1 0 -1.3 0 M125.2 326.6a0.5 0.5 0 1 0 1.1 0a0.5 0.5 0 1 0 -1.1 0 M129.2 319.4a0.6 0.6 0 1 0 1.1 0a0.6 0.6 0 1 0 -1.1 0 M102.7 330.1a0.6 0.6 0 1 0 1.2 0a0.6 0.6 0 1 0 -1.2 0" fill="none" stroke="#222" stroke-width="0.5"/>
<path d="M102.0 307.8h0.8M98.7 304.4h0.8M100.5 307.4h0.8M100.1 306.9h0.8M99.5 306.9h0.8M99.8 304.8h0.8M101.5 307.6h0.8M101.8 306.1h0.8M100.2 306.9h0.8M104.5 337.0h0.8M106.0 336.2h0.8M107.0 336.0h0.8" stroke="#333" stroke-width="0.8" fill="none"/>
<path d="M93.5 323.0h0.9M91.0 345.5h0.9" stroke="#bbb" stroke-width="0.9" fill="none"/>
<path d="M212.0 316.7 L213.0 317.1 L212.5 318.0 L213.7 319.9 L213.5 319.7 L212.9 321.2 L212.3 322.1 L212.4 323.6 L210.5 324.7 L209.5 324.7 L209.3 326.3 L208.8 325.8 L206.8 326.7 L206.2 327.5 L204.7 327.7 L204.5 328.3 L202.4 328.1 L202.0 328.2 L201.2 327.2 L200.1 327.2 L199.0 326.3 L197.3 326.3 L197.4 325.7 L195.9 325.2 L195.0 324.4 L195.2 323.4 L195.4 322.6 L195.1 322.1 L195.3 320.8 L195.0 319.7 L196.6 318.6 L196.0 317.9 L197.7 317.9 L198.2 317.1 L199.2 315.7 L200.5 314.8 L200.6 314.8 L202.5 313.9 L203.3 314.0 L205.3 313.3 L205.9 313.1 L207.2 311.9 L207.6 312.3 L208.8 312.3 L210.6 313.5 L211.2 314.0 L211.1 314.7 L212.5 314.9Z M213.5 317.2 L213.5 318.1 L212.9 319.1 L211.5 320.2 L210.3 320.9 L208.8 321.9 L207.0 322.4 L205.5 322.7 L204.4 323.0 L203.6 322.6 L203.0 322.2 L202.9 322.0 L203.2 320.7 L204.3 320.1 L205.6 319.2 L207.2 318.2 L208.5 317.3 L210.3 316.9 L211.8 316.4 L213.0 316.7Z" fill="#1e1e1e" fill-rule="evenodd"/>
<path d="M212.4 317.9 L212.7 318.4 L212.5 320.2 L213.0 320.8 L211.4 320.7 L212.0 320.5 L211.1 323.1 L211.8 322.4 L209.3 324.3 L210.2 323.6 L208.7 325.2 L207.5 325.3 L207.2 327.6 L206.5 327.2 L204.4 328.0 L202.6 329.4 L202.4 327.8 L201.3 327.4 L199.5 326.7 L199.6 326.7 L198.1 325.0 L198.1 325.4 L197.5 325.2 L197.3 323.0 L196.8 324.8 L196.4 321.9 L197.0 322.7 L196.1 321.8 L195.8 321.5 L196.3 318.2 L198.4 318.0 L199.6 317.4 L199.6 316.0 L200.4 313.9 L201.8 314.9 L201.5 315.3 L202.9 314.1 L204.6 312.7 L204.8 314.4 L205.4 314.3 L208.2 313.1 L208.6 314.4 L211.2 313.8 L211.6 315.0 L212.1 313.6 L211.5 314.9Z M213.5 315.1 L212.6 317.4 L214.7 318.3 L214.0 318.0 L213.9 319.3 L213.3 322.4 L212.2 321.6 L211.8 323.2 L209.4 324.7 L209.6 325.9 L208.4 326.5 L207.7 325.4 L205.8 327.7 L204.9 326.4 L203.9 329.3 L203.2 327.7 L201.7 330.0 L201.4 328.7 L199.0 327.8 L198.0 326.8 L198.0 326.6 L197.8 325.6 L196.4 325.5 L197.0 323.7 L196.1 322.8 L195.8 322.1 L196.4 320.8 L196.8 320.8 L196.3 320.9 L196.4 319.5 L197.3 317.6 L196.7 317.3 L198.1 316.3 L200.3 314.2 L201.1 314.5 L200.8 313.6 L202.3 314.4 L203.4 312.9 L205.3 313.9 L207.5 312.9 L207.3 312.2 L209.3 311.9 L209.5 313.5 L211.7 314.2 L212.0 315.9 L213.1 313.8Z M213.1 315.8 L213.9 317.5 L214.9 319.1 L214.2 318.7 L214.1 320.6 L214.2 322.6 L211.7 323.2 L212.2 324.4 L211.2 326.4 L209.4 325.7 L208.2 326.6 L208.1 325.8 L206.2 328.4 L206.2 328.5 L204.1 329.3 L204.0 328.8 L200.9 328.7 L199.9 329.7 L201.1 328.5 L197.2 327.8 L197.8 327.1 L196.4 327.5 L195.8 325.9 L194.6 325.5 L193.4 323.5 L194.1 322.6 L194.7 321.0 L194.0 319.8 L194.8 320.0 L196.4 318.6 L197.4 316.5 L198.1 315.6 L199.6 315.5 L199.2 315.5 L201.8 315.0 L200.8 312.6 L202.3 314.2 L204.9 312.8 L204.6 312.6 L205.2 311.6 L208.2 313.5 L210.2 313.1 L209.4 313.2 L210.4 313.3 L212.2 315.6 L212.8 315.3Z M213.7 316.1 L214.9 316.4 L214.2 319.0 L213.6 319.4 L213.8 320.6 L213.0 321.7 L212.2 321.8 L212.6 322.4 L211.7 325.1 L210.1 325.4 L208.4 327.0 L207.8 327.7 L206.6 329.1 L205.1 327.4 L204.7 330.1 L201.9 329.7 L202.8 327.8 L200.8 327.9 L199.2 328.5 L198.4 327.2 L197.2 327.6 L196.1 325.7 L193.8 326.2 L194.4 326.3 L194.7 325.2 L194.0 322.7 L194.5 320.7 L196.2 321.1 L194.2 319.4 L196.5 318.9 L196.0 316.3 L197.3 315.2 L198.5 315.7 L200.4 314.7 L199.6 315.7 L202.1 313.2 L201.8 313.9 L204.1 312.8 L207.2 312.2 L206.3 312.6 L208.7 312.0 L209.6 311.5 L210.5 311.3 L211.8 314.0 L211.0 313.8 L214.0 315.3Z M214.8 316.9 L215.7 317.8 L214.1 318.2 L214.9 320.2 L213.4 321.9 L212.9 320.6 L212.8 322.6 L213.6 324.9 L212.2 325.7 L211.1 327.1 L209.2 328.3 L207.9 328.6 L206.3 328.6 L204.8 329.1 L204.6 329.2 L202.8 329.5 L202.4 328.3 L200.6 328.7 L200.2 327.7 L198.1 327.5 L196.4 328.8 L195.7 326.6 L194.5 327.6 L194.7 325.9 L194.4 324.6 L194.7 324.3 L194.6 321.5 L193.2 320.2 L194.1 318.3 L194.7 319.5 L194.8 318.4 L197.0 316.4 L197.1 314.9 L200.4 314.8 L200.4 312.5 L201.7 312.1 L202.0 312.9 L203.9 310.7 L206.3 311.1 L208.6 311.4 L209.0 310.3 L211.5 311.3 L211.2 313.1 L212.5 312.0 L212.0 312.9 L213.8 314.0Z M215.5 314.5 L215.3 316.1 L216.2 318.8 L214.7 320.6 L215.5 320.4 L214.3 322.3 L213.8 323.3 L214.3 324.3 L211.0 324.5 L212.0 325.5 L210.3 326.3 L208.3 327.8 L208.3 329.6 L205.9 329.6 L203.7 329.4 L203.5 328.6 L202.6 329.9 L199.4 331.3 L197.7 330.2 L197.1 330.7 L196.4 329.4 L194.8 328.3 L193.6 325.6 L195.6 326.3 L195.2 324.9 L194.5 322.9 L192.3 322.7 L192.4 321.3 L193.1 319.7 L193.7 319.1 L195.0 317.2 L195.2 316.5 L198.0 316.1 L198.1 313.1 L199.0 313.0 L202.1 313.3 L204.2 312.5 L205.5 311.9 L206.1 309.5 L207.2 311.3 L209.2 311.1 L210.9 312.3 L210.4 312.4 L213.2 310.8 L213.4 314.5 L215.6 312.3Z M215.4 315.5 L216.8 317.0 L214.7 317.3 L217.9 319.9 L217.1 319.9 L215.0 321.8 L213.6 324.4 L212.8 324.8 L212.0 324.9 L211.5 326.1 L209.8 328.7 L207.5 327.8 L206.7 329.3 L206.4 328.8 L203.9 330.7 L202.3 330.6 L201.1 331.6 L198.7 330.0 L197.7 329.8 L197.9 329.5 L196.7 328.5 L194.1 329.1 L193.0 326.7 L193.7 327.3 L192.7 324.5 L195.0 324.0 L193.0 321.3 L195.0 321.2 L194.0 320.5 L193.7 317.9 L195.2 317.4 L195.8 316.4 L195.5 315.1 L197.2 312.6 L200.0 311.3 L200.6 313.1 L204.0 311.7 L204.2 312.0 L205.0 311.5 L208.0 309.3 L208.2 311.5 L211.6 311.0 L212.8 310.7 L212.3 311.3 L213.9 314.4 L213.2 314.0Z M215.5 314.1 L217.1 316.2 L217.2 318.2 L216.9 320.2 L214.4 320.4 L213.8 321.9 L215.5 323.9 L213.1 323.6 L212.2 325.9 L211.4 327.7 L211.6 327.3 L209.9 329.8 L207.3 329.3 L207.7 331.3 L203.5 332.0 L202.0 329.7 L200.0 330.1 L200.0 329.4 L196.7 330.1 L197.5 329.4 L196.0 328.8 L193.5 327.2 L193.2 326.0 L193.3 326.3 L192.9 324.7 L192.8 322.9 L192.4 323.3 L192.4 320.6 L192.7 319.3 L193.3 319.2 L193.9 318.1 L196.4 315.9 L195.6 314.7 L198.8 312.4 L198.9 313.7 L200.4 312.7 L202.2 313.0 L203.0 310.0 L206.0 309.4 L207.7 309.6 L210.3 309.3 L209.9 309.2 L211.8 310.4 L213.8 311.9 L214.2 311.5 L215.9 313.4Z M215.8 313.9 L217.2 315.2 L217.9 318.0 L216.5 320.4 L216.3 320.4 L216.6 323.0 L215.3 323.4 L214.3 325.8 L213.2 325.7 L211.1 326.9 L212.1 328.8 L211.1 330.0 L208.7 330.9 L207.0 331.4 L204.7 329.7 L203.3 329.8 L201.2 331.7 L198.6 330.8 L198.2 331.1 L197.4 330.9 L196.4 329.4 L193.1 329.6 L192.8 329.2 L193.2 325.4 L191.5 325.9 L192.9 324.6 L191.5 321.3 L192.0 319.5 L193.7 319.6 L194.4 318.6 L194.9 317.7 L195.5 315.3 L195.9 314.1 L196.2 313.0 L199.7 311.5 L201.5 312.2 L202.8 310.7 L203.3 309.6 L205.3 309.8 L208.8 309.5 L209.8 310.0 L212.1 308.4 L213.8 310.1 L215.2 311.6 L214.1 312.1 L215.8 313.5Z M217.1 315.2 L216.5 315.5 L217.9 316.6 L217.3 318.1 L216.7 320.7 L217.8 323.2 L216.2 323.2 L214.0 324.2 L213.6 327.1 L211.0 327.4 L211.5 328.7 L209.7 329.7 L209.4 330.8 L205.6 331.3 L205.6 330.7 L202.2 332.4 L199.4 331.2 L199.0 330.9 L198.3 331.6 L195.9 331.6 L195.3 330.3 L193.4 328.8 L191.7 328.2 L193.6 327.0 L190.1 324.7 L191.5 324.5 L191.6 321.4 L192.4 321.1 L193.3 318.9 L193.6 318.2 L193.1 315.2 L194.3 313.7 L194.4 314.0 L195.4 312.1 L198.5 311.7 L200.1 312.4 L203.0 309.6 L204.0 308.8 L206.6 307.5 L206.9 308.5 L210.4 308.8 L210.8 309.6 L213.3 309.3 L215.0 311.3 L215.0 311.8 L216.0 313.2Z M217.8 315.0 L217.8 315.8 L218.6 316.9 L217.8 320.1 L219.0 320.7 L217.1 322.6 L216.6 322.8 L216.1 325.8 L214.2 326.4 L212.3 327.8 L210.6 329.5 L210.3 330.9 L207.9 331.6 L205.0 332.2 L204.8 331.4 L202.5 331.6 L201.0 333.7 L198.7 333.4 L196.4 332.2 L197.3 331.1 L194.9 330.0 L194.9 329.0 L193.8 327.5 L191.7 327.4 L191.3 325.4 L191.4 322.5 L191.1 321.7 L192.2 321.7 L191.3 319.8 L192.4 317.8 L192.4 317.0 L195.1 314.7 L195.0 314.3 L196.2 311.4 L198.8 311.1 L201.1 311.9 L202.9 311.2 L204.0 310.4 L204.6 309.2 L208.5 309.1 L210.3 308.2 L210.9 308.9 L213.0 308.2 L215.1 310.5 L215.6 311.0 L219.0 313.0Z M218.4 314.7 L219.9 314.3 L219.5 317.5 L217.8 320.2 L218.1 319.4 L217.5 322.3 L216.1 324.7 L214.6 325.4 L213.8 326.7 L213.8 327.7 L212.3 330.1 L208.8 329.8 L208.0 330.1 L207.2 331.0 L204.2 332.3 L203.8 333.3 L200.6 331.6 L198.7 333.1 L196.8 333.3 L196.0 330.4 L193.4 330.1 L193.0 328.0 L192.5 326.7 L193.0 326.2 L191.4 324.1 L189.8 324.1 L191.8 322.1 L190.5 319.4 L188.9 318.5 L191.4 316.5 L192.1 316.7 L194.1 314.0 L194.9 312.9 L196.7 311.7 L197.8 310.5 L199.4 309.8 L200.7 309.5 L204.0 308.2 L205.4 309.8 L207.9 308.3 L209.9 309.5 L212.5 308.8 L214.0 309.7 L214.8 310.1 L216.2 311.3 L217.9 312.3Z M216.8 313.2 L217.6 314.6 L219.9 317.1 L218.1 318.3 L219.8 320.9 L218.3 322.4 L217.3 323.4 L215.7 325.6 L216.3 327.6 L215.0 328.7 L210.7 329.6 L211.4 330.3 L208.2 331.3 L207.3 332.1 L205.1 331.4 L203.0 331.4 L199.6 332.9 L198.8 331.0 L198.1 332.4 L196.1 331.5 L194.6 330.4 L191.8 330.0 L192.4 328.7 L189.5 327.7 L189.7 325.4 L190.1 324.4 L188.3 322.4 L190.1 320.0 L189.6 320.3 L191.2 318.8 L191.9 314.9 L193.7 313.8 L196.2 313.4 L196.8 310.7 L197.6 312.2 L198.9 309.7 L200.5 309.0 L204.5 309.8 L205.3 307.7 L208.6 306.3 L210.9 307.2 L213.3 305.5 L214.7 307.5 L216.5 308.2 L217.0 309.8 L218.0 313.6Z" fill="none" stroke="#151515" stroke-width="0.55"/>
<path d="M209.9 332.0a0.8 0.8 0 1 0 1.7 0a0.8 0.8 0 1 0 -1.7 0 M218.4 318.9a0.6 0.6 0 1 0 1.3 0a0.6 0.6 0 1 0 -1.3 0 M207.0 305.8a0.8 0.8 0 1 0 1.7 0a0.8 0.8 0 1 0 -1.7 0 M189.9 317.1a0.7 0.7 0 1 0 1.5 0a0.7 0.7 0 1 0 -1.5 0 M219.1 318.1a0.8 0.8 0 1 0 1.5 0a0.8 0.8 0 1 0 -1.5 0 M218.4 318.1a0.7 0.7 0 1 0 1.4 0a0.7 0.7 0 1 0 -1.4 0 M201.5 333.6a1.0 1.0 0 1 0 1.9 0a1.0 1.0 0 1 0 -1.9 0 M214.1 327.8a0.9 0.9 0 1 0 1.8 0a0.9 0.9 0 1 0 -1.8 0 M188.9 322.6a0.9 0.9 0 1 0 1.7 0a0.9 0.9 0 1 0 -1.7 0 M219.5 319.1a0.6 0.6 0 1 0 1.2 0a0.6 0.6 0 1 0 -1.2 0 M189.9 330.0a0.9 0.9 0 1 0 1.7 0a0.9 0.9 0 1 0 -1.7 0 M199.3 309.8a0.9 0.9 0 1 0 1.8 0a0.9 0.9 0 1 0 -1.8 0 M215.6 324.9a0.5 0.5 0 1 0 1.0 0a0.5 0.5 0 1 0 -1.0 0 M210.8 307.7a0.5 0.5 0 1 0 1.0 0a0.5 0.5 0 1 0 -1.0 0 M207.4 306.0a0.5 0.5 0 1 0 1.0 0a0.5 0.5 0 1 0 -1.0 0 M217.5 322.5a0.6 0.6 0 1 0 1.1 0a0.6 0.6 0 1 0 -1.1 0" fill="none" stroke="#222" stroke-width="0.5"/>
<path d="M184.2 318.2h0.8M184.0 309.2h0.8M186.2 313.1h0.8M183.9 316.8h0.8M186.0 313.4h0.8M185.8 306.8h0.8M186.7 309.7h0.8M185.0 306.2h0.8M188.3 317.2h0.8M185.4 316.3h0.8M188.6 308.5h0.8M185.3 319.5h0.8M185.2 319.4h0.8M212.5 293.6h0.8M214.0 293.9h0.8" stroke="#333" stroke-width="0.8" fill="none"/>
<path d="M181.0 348.0h0.9" stroke="#bbb" stroke-width="0.9" fill="none"/>
<path d="M130.1 405.1 L130.7 406.1 L130.2 406.8 L129.2 409.3 L128.6 409.6 L128.3 411.6 L127.0 412.5 L125.7 414.6 L124.6 415.0 L123.5 416.5 L121.9 416.9 L120.4 417.0 L118.5 418.4 L116.8 419.3 L115.3 419.2 L114.2 418.6 L113.5 418.1 L112.4 418.9 L111.7 417.7 L109.8 418.3 L108.6 418.0 L107.8 416.8 L107.5 414.8 L107.1 413.7 L107.9 412.5 L109.2 411.4 L108.4 410.6 L109.0 408.9 L110.5 407.8 L111.4 405.9 L111.6 404.9 L112.8 404.1 L114.1 402.8 L114.9 402.0 L117.1 399.9 L118.0 399.2 L118.8 399.3 L120.6 399.1 L122.5 398.4 L124.3 397.0 L124.5 397.3 L126.6 398.4 L127.7 398.7 L128.5 399.3 L128.1 401.0 L128.3 401.5 L128.8 402.3 L129.5 403.8Z M123.3 406.9 L123.4 407.9 L122.9 408.5 L121.9 409.5 L121.0 410.2 L119.6 410.7 L118.7 410.7 L117.3 410.9 L116.7 410.8 L116.4 410.3 L115.9 409.6 L116.5 409.1 L117.3 408.3 L117.7 407.5 L118.9 407.0 L119.9 406.6 L121.0 405.9 L122.0 405.8 L123.1 405.7 L123.2 406.2Z" fill="#1e1e1e" fill-rule="evenodd"/>
<path d="M129.6 405.2 L130.1 405.8 L128.3 407.5 L128.8 407.9 L126.4 411.6 L126.1 410.7 L125.2 414.1 L125.0 412.9 L123.7 414.6 L122.2 416.8 L120.0 418.7 L118.6 417.1 L118.2 417.0 L115.5 419.2 L115.5 419.4 L114.6 417.1 L112.1 418.5 L111.8 417.0 L111.7 416.1 L109.9 415.6 L110.5 416.8 L108.8 414.5 L109.5 414.6 L109.1 411.2 L108.6 410.4 L109.6 411.0 L110.1 407.7 L110.0 406.7 L110.5 406.8 L112.8 404.1 L113.6 404.3 L115.4 402.5 L114.8 401.2 L116.9 402.1 L118.9 400.5 L119.7 399.3 L121.2 400.4 L123.0 397.5 L125.1 398.3 L126.4 398.8 L127.7 399.5 L128.9 398.9 L128.6 400.1 L128.4 401.4 L129.4 402.2 L129.5 404.7Z M129.2 405.5 L128.6 406.0 L128.6 408.7 L129.8 408.1 L127.7 409.6 L126.6 412.5 L126.8 411.8 L124.6 415.3 L123.3 416.8 L121.8 416.6 L119.8 417.0 L118.9 417.3 L118.0 416.8 L117.1 419.1 L114.3 418.3 L112.4 418.3 L113.3 418.8 L110.2 418.5 L110.8 417.0 L108.7 417.0 L109.2 417.4 L108.3 416.4 L108.6 414.1 L106.9 414.1 L107.0 412.0 L107.3 409.4 L109.0 407.9 L111.7 407.0 L112.7 406.7 L113.0 404.9 L113.6 404.2 L114.7 401.4 L115.9 401.1 L117.5 400.8 L119.2 399.4 L121.2 399.2 L120.4 397.7 L121.8 397.7 L125.5 397.4 L125.6 398.4 L127.1 398.1 L128.8 398.4 L130.3 400.3 L128.4 401.6 L129.0 403.7 L128.2 403.6Z M129.7 405.0 L128.8 406.4 L128.9 408.2 L127.9 408.4 L127.9 410.8 L127.6 410.7 L128.1 413.8 L124.7 414.0 L125.1 416.7 L121.8 417.8 L122.0 418.5 L118.2 417.6 L116.7 418.3 L117.7 419.5 L114.6 418.2 L113.0 418.7 L112.8 419.6 L111.6 418.4 L110.0 418.0 L109.1 417.2 L109.5 416.6 L107.8 415.7 L106.3 413.5 L106.7 412.9 L105.7 411.1 L108.1 411.3 L109.3 407.2 L109.4 407.1 L110.2 405.2 L112.6 405.3 L112.6 402.6 L113.0 401.3 L116.2 400.2 L118.0 400.6 L117.4 398.8 L120.1 399.1 L122.3 397.1 L123.2 397.2 L125.0 398.4 L125.8 399.0 L128.4 398.3 L130.0 399.6 L129.1 401.1 L129.7 401.6 L129.3 401.7 L130.4 404.3Z M131.7 404.2 L129.4 405.8 L129.7 407.4 L130.6 408.8 L128.8 409.1 L127.0 412.7 L125.8 412.8 L123.9 414.1 L124.0 416.5 L122.5 417.9 L120.1 417.5 L119.6 418.4 L117.6 418.9 L115.3 418.4 L114.2 419.1 L112.1 418.6 L111.6 418.1 L111.7 418.2 L109.8 418.4 L107.4 417.1 L108.9 416.7 L107.3 415.4 L107.8 414.3 L108.2 413.7 L108.7 411.8 L108.3 409.9 L108.6 408.8 L109.4 407.8 L110.5 404.1 L112.0 404.2 L113.4 403.9 L113.3 402.4 L115.9 402.4 L116.5 400.7 L118.1 400.0 L120.5 398.7 L121.9 398.4 L122.2 396.8 L126.1 397.7 L127.0 396.5 L127.0 398.6 L129.1 397.1 L130.8 399.0 L129.1 400.9 L129.8 401.0 L132.0 403.9Z M132.2 402.9 L131.1 405.6 L130.7 407.3 L130.5 410.0 L130.5 411.2 L128.7 411.2 L126.4 413.8 L126.1 415.2 L124.1 417.5 L121.5 416.0 L119.6 417.4 L120.2 419.1 L116.4 419.1 L115.7 420.9 L115.2 419.5 L112.3 422.0 L112.7 420.5 L110.2 420.6 L109.6 419.2 L107.5 418.7 L107.9 416.6 L107.6 414.8 L108.5 413.2 L107.3 414.3 L109.0 412.2 L108.8 410.7 L108.9 408.5 L108.1 408.0 L111.2 406.1 L109.9 403.5 L113.2 402.6 L115.3 402.2 L115.3 400.5 L117.5 399.1 L118.5 398.4 L119.7 398.8 L122.8 397.8 L123.2 396.5 L125.1 397.8 L126.1 396.6 L126.2 398.3 L127.7 398.3 L128.9 399.5 L131.4 401.1 L131.5 399.9 L133.1 402.4Z M130.7 403.4 L130.9 404.6 L131.2 408.3 L130.5 409.1 L130.7 411.5 L130.0 413.3 L127.1 412.9 L126.6 415.7 L125.4 416.6 L121.9 416.5 L121.9 418.5 L120.6 419.1 L118.7 420.4 L117.1 420.0 L115.3 420.0 L111.6 420.4 L111.7 421.3 L109.9 419.1 L109.3 417.9 L107.6 418.2 L106.6 417.9 L107.0 416.9 L106.5 416.2 L105.4 413.9 L104.9 411.0 L106.3 411.4 L106.8 408.7 L108.5 406.4 L109.8 404.5 L110.9 403.8 L113.7 403.2 L114.5 401.4 L116.4 400.3 L115.5 398.3 L119.6 398.6 L121.8 397.6 L121.3 397.4 L124.2 396.7 L125.1 397.8 L127.0 395.8 L129.6 396.1 L128.8 398.4 L129.7 398.2 L130.9 400.2 L131.4 401.7 L133.2 403.5Z M132.6 402.7 L132.0 404.5 L131.2 408.7 L130.4 409.9 L129.8 409.5 L129.4 411.1 L129.0 414.5 L126.1 415.4 L123.5 417.6 L121.6 418.2 L122.2 418.8 L118.6 420.5 L117.9 419.9 L116.6 420.9 L114.1 421.0 L112.1 420.3 L112.4 419.4 L110.7 419.3 L107.5 418.6 L108.7 419.3 L107.5 418.0 L104.3 416.4 L104.6 415.9 L106.6 414.6 L105.6 411.4 L106.0 409.6 L106.5 409.0 L108.3 406.7 L110.7 404.6 L111.8 403.7 L110.8 401.6 L114.1 401.7 L114.2 400.4 L116.4 399.0 L119.7 397.8 L119.5 396.4 L123.7 397.1 L125.1 395.8 L124.7 395.7 L128.2 394.3 L128.1 395.4 L130.7 396.7 L129.3 398.8 L130.0 400.2 L131.7 401.6 L130.9 403.1Z M132.6 404.7 L132.0 405.4 L132.6 405.7 L131.7 409.1 L131.4 411.7 L129.4 411.7 L127.0 414.3 L125.8 416.0 L123.8 417.9 L122.3 417.2 L120.6 420.5 L120.5 420.2 L117.8 421.3 L115.3 421.4 L114.9 420.1 L110.7 421.3 L109.6 423.0 L109.1 421.3 L107.0 421.2 L105.9 418.6 L107.0 418.2 L107.2 417.1 L104.7 415.0 L104.9 413.9 L105.2 413.3 L107.3 410.9 L107.7 409.6 L109.3 407.4 L109.7 404.3 L109.6 402.6 L112.5 401.8 L114.4 399.7 L115.2 400.3 L118.2 398.2 L119.9 397.4 L120.1 396.3 L121.6 396.2 L125.3 395.1 L124.9 396.6 L125.9 397.0 L127.2 397.4 L130.7 397.9 L131.9 397.8 L131.6 398.2 L133.5 400.4 L132.4 401.3Z M132.6 403.6 L132.9 406.4 L133.2 408.0 L131.2 408.1 L129.7 411.8 L129.1 412.6 L127.5 412.8 L125.5 415.7 L126.0 418.0 L123.1 418.0 L120.2 420.5 L119.5 422.1 L116.4 421.3 L113.9 421.6 L114.8 422.9 L110.9 421.0 L110.8 420.5 L110.3 421.4 L108.8 419.2 L107.2 418.6 L106.5 417.4 L106.6 417.0 L106.3 414.6 L106.9 413.5 L105.5 412.6 L105.3 409.6 L105.3 409.3 L106.0 405.9 L108.4 403.7 L110.0 402.3 L111.4 402.8 L114.3 400.9 L116.3 399.1 L118.0 398.1 L118.7 396.9 L120.2 397.1 L121.8 396.8 L125.2 396.0 L125.0 394.4 L127.6 395.1 L130.6 395.2 L131.1 396.5 L132.1 397.9 L132.6 399.0 L132.0 399.7 L133.7 402.8Z M133.8 403.3 L132.9 406.3 L131.6 406.8 L131.4 408.5 L130.1 410.2 L129.8 412.0 L128.9 414.7 L127.1 416.0 L125.2 417.0 L123.3 419.4 L120.8 420.9 L120.0 421.9 L117.8 421.1 L116.2 420.5 L113.7 421.4 L113.0 422.0 L109.9 423.4 L109.6 421.6 L108.2 421.3 L105.2 419.4 L104.3 419.4 L105.8 417.3 L105.6 415.2 L105.6 414.0 L105.4 412.2 L106.0 410.4 L105.6 409.4 L107.9 406.4 L109.8 404.6 L109.2 403.7 L110.8 401.0 L113.7 399.1 L115.1 397.9 L117.2 398.8 L117.9 397.7 L119.9 396.9 L123.7 393.9 L125.1 393.8 L125.6 394.2 L128.2 396.1 L128.2 396.6 L130.1 397.3 L132.1 398.0 L132.5 400.2 L133.5 399.4 L134.3 402.5Z M133.2 402.7 L132.9 405.3 L133.1 407.4 L132.3 409.5 L132.2 411.8 L131.3 412.2 L130.2 414.5 L126.4 415.8 L125.4 417.1 L123.3 417.8 L121.9 418.8 L120.2 420.3 L117.3 422.0 L115.6 422.5 L114.1 423.8 L111.9 421.6 L110.6 421.1 L107.4 423.5 L105.9 420.6 L105.1 420.6 L105.7 417.4 L103.6 416.4 L103.3 415.7 L104.7 415.3 L105.1 413.1 L105.6 411.4 L106.4 407.8 L107.2 406.8 L108.2 406.5 L109.6 402.6 L111.4 402.2 L112.1 399.9 L113.2 397.6 L115.7 396.9 L118.8 394.9 L121.2 395.2 L123.7 395.7 L124.7 395.9 L126.3 394.7 L126.9 394.3 L129.5 394.6 L129.3 395.8 L132.0 396.5 L132.9 399.2 L133.6 398.9 L135.1 402.5Z" fill="none" stroke="#151515" stroke-width="0.55"/>
<path d="M107.6 403.2a0.9 0.9 0 1 0 1.7 0a0.9 0.9 0 1 0 -1.7 0 M127.4 394.0a0.9 0.9 0 1 0 1.8 0a0.9 0.9 0 1 0 -1.8 0 M129.6 412.9a0.6 0.6 0 1 0 1.2 0a0.6 0.6 0 1 0 -1.2 0 M104.8 408.3a0.7 0.7 0 1 0 1.4 0a0.7 0.7 0 1 0 -1.4 0 M125.5 393.5a0.9 0.9 0 1 0 1.8 0a0.9 0.9 0 1 0 -1.8 0 M103.0 414.9a0.8 0.8 0 1 0 1.7 0a0.8 0.8 0 1 0 -1.7 0 M133.2 396.9a0.8 0.8 0 1 0 1.5 0a0.8 0.8 0 1 0 -1.5 0 M108.6 423.5a0.5 0.5 0 1 0 1.0 0a0.5 0.5 0 1 0 -1.0 0 M102.8 415.9a0.9 0.9 0 1 0 1.7 0a0.9 0.9 0 1 0 -1.7 0 M117.2 422.0a0.8 0.8 0 1 0 1.6 0a0.8 0.8 0 1 0 -1.6 0 M103.5 419.7a0.9 0.9 0 1 0 1.8 0a0.9 0.9 0 1 0 -1.8 0 M104.9 409.5a0.6 0.6 0 1 0 1.3 0a0.6 0.6 0 1 0 -1.3 0 M112.6 423.6a0.9 0.9 0 1 0 1.7 0a0.9 0.9 0 1 0 -1.7 0 M126.6 416.2a0.6 0.6 0 1 0 1.2 0a0.6 0.6 0 1 0 -1.2 0 M127.5 415.7a1.0 1.0 0 1 0 2.0 0a1.0 1.0 0 1 0 -2.0 0 M108.1 422.8a0.8 0.8 0 1 0 1.7 0a0.8 0.8 0 1 0 -1.7 0" fill="none" stroke="#222" stroke-width="0.5"/>
<path d="M106.3 423.7h0.9M100.7 427.3h0.9M93.7 419.9h0.9M100.2 433.9h0.9M95.3 421.1h0.9M93.0 431.4h0.9M100.2 427.5h0.9M89.0 434.2h0.9M90.2 437.0h0.9M88.1 432.5h0.9M90.7 441.2h0.9M84.9 436.4h0.9M105.8 419.6h0.9M93.7 421.1h0.9M92.2 431.2h0.9M104.9 427.6h0.9M100.2 435.3h0.9M88.6 433.1h0.9M93.9 433.5h0.9M97.6 438.1h0.9M98.4 423.3h0.9M96.9 435.6h0.9M91.4 437.7h0.9M92.4 420.9h0.9M95.6 419.4h0.9M101.6 423.2h0.9M90.6 437.5h0.9M97.2 440.3h0.9M92.4 437.0h0.9M91.3 432.8h0.9M100.8 425.5h0.9M84.8 441.9h0.9M108.1 430.1h0.9M104.8 419.6h0.9M96.8 430.1h0.9M97.3 426.6h0.9M98.7 442.6h0.9M87.7 425.4h0.9M96.7 425.1h0.9M94.2 431.0h0.9M94.2 436.6h0.9M96.3 424.0h0.9M93.8 428.1h0.9M97.3 430.7h0.9M88.8 431.4h0.9M92.6 425.4h0.9M102.6 419.4h0.9M84.7 433.6h0.9M100.3 430.8h0.9M88.7 432.9h0.9M103.0 420.4h0.9M110.3 421.6h0.9M93.4 432.7h0.9M93.4 422.1h0.9M97.9 420.8h0.9M99.2 434.4h0.9M92.3 434.1h0.9M93.2 430.0h0.9M97.8 431.4h0.9M103.3 424.4h0.9M93.5 424.7h0.9M100.3 420.2h0.9M92.4 427.9h0.9M98.9 423.1h0.9M97.1 424.2h0.9M102.9 420.3h0.9M104.0 432.5h0.9M101.5 430.2h0.9M94.7 434.9h0.9M95.7 432.8h0.9M95.3 431.8h0.9M95.5 423.7h0.9M92.5 425.4h0.9M106.2 418.2h0.9M89.0 423.0h0.9M103.7 414.4h0.9M92.4 437.5h0.9M102.0 426.9h0.9M96.3 437.7h0.9M105.4 421.7h0.9M102.6 426.9h0.9M87.0 438.6h0.9M93.4 428.8h0.9M92.9 427.8h0.9M90.7 429.3h0.9M101.2 422.8h0.9M98.1 433.5h0.9M100.5 423.8h0.9M100.0 434.4h0.9M85.1 424.7h0.9M101.7 427.4h0.9M92.5 424.6h0.9M90.1 425.1h0.9M98.4 428.6h0.9M100.4 430.8h0.9M100.2 430.9h0.9M97.8 428.9h0.9M87.2 435.5h0.9M98.7 429.6h0.9M95.2 427.4h0.9M102.7 429.7h0.9M98.2 439.1h0.9M90.1 434.4h0.9M96.1 430.5h0.9M96.4 422.9h0.9M96.6 426.1h0.9M91.9 436.6h0.9M98.5 429.5h0.9M105.4 414.7h0.9M103.0 423.2h0.9M92.2 423.5h0.9M93.6 432.2h0.9M90.8 428.2h0.9M95.2 428.4h0.9M97.0 431.8h0.9M94.0 423.3h0.9M98.9 438.6h0.9M91.9 432.3h0.9M96.4 429.4h0.9M98.1 428.3h0.9M105.6 417.6h0.9M82.9 436.5h0.9M87.9 434.0h0.9M102.6 428.1h0.9M90.7 429.6h0.9M91.8 428.0h0.9M93.0 428.2h0.9M91.2 434.2h0.9M94.6 430.3h0.9M101.0 435.9h0.9M102.0 430.9h0.9M103.5 422.5h0.9M91.2 421.9h0.9M101.0 423.6h0.9M92.2 439.8h0.9M102.7 424.7h0.9M98.9 435.6h0.9M90.2 420.9h0.9M88.4 435.7h0.9M105.0 426.3h0.9M101.5 420.5h0.9M90.5 434.8h0.9M94.6 433.0h0.9M103.9 434.1h0.9M95.0 430.2h0.9M85.9 429.8h0.9M93.3 428.3h0.9M99.2 425.3h0.9M90.6 433.8h0.9M100.3 430.3h0.9M99.2 430.5h0.9M104.7 424.3h0.9M92.8 427.7h0.9M100.9 423.0h0.9M86.6 442.0h0.9M90.7 427.9h0.9M92.1 421.6h0.9M96.7 431.3h0.9M91.2 422.3h0.9M93.6 429.5h0.9M94.8 426.2h0.9M95.2 421.0h0.9M94.4 428.8h0.9M94.1 439.5h0.9M98.1 428.8h0.9M90.4 441.4h0.9M92.6 428.9h0.9M107.6 425.7h0.9M97.6 419.1h0.9M103.0 434.3h0.9M99.8 426.4h0.9M96.8 444.3h0.9M99.8 426.9h0.9M91.2 422.0h0.9M97.3 431.0h0.9M99.4 411.9h0.9M100.3 420.8h0.9M106.0 426.3h0.9M86.7 427.1h0.9M93.8 423.2h0.9M101.8 423.2h0.9M90.7 437.4h0.9M94.8 421.6h0.9M99.6 424.3h0.9M101.8 415.8h0.9M96.3 430.5h0.9M88.5 430.3h0.9M102.1 421.8h0.9M90.7 422.6h0.9M103.6 431.6h0.9M93.8 433.2h0.9M98.2 434.0h0.9M92.6 423.8h0.9M96.5 431.1h0.9M94.3 419.7h0.9M97.3 417.9h0.9M101.2 427.0h0.9M92.8 433.7h0.9M96.5 424.8h0.9M102.4 424.4h0.9M97.9 428.3h0.9M88.7 430.0h0.9M94.3 430.2h0.9M89.5 432.1h0.9M97.0 433.2h0.9M102.3 430.4h0.9M94.4 437.6h0.9M92.7 427.4h0.9M92.1 429.6h0.9M94.6 426.0h0.9M87.1 431.0h0.9M95.4 421.9h0.9M105.5 410.5h0.9M95.4 423.7h0.9M99.4 436.1h0.9M99.9 429.1h0.9M104.9 427.2h0.9M91.4 443.6h0.9M95.7 421.7h0.9M96.0 434.6h0.9M99.3 427.6h0.9M98.0 423.5h0.9M111.4 416.8h0.9M93.0 440.2h0.9M85.4 444.1h0.9M103.1 427.0h0.9M95.3 428.8h0.9M99.4 423.3h0.9M94.6 428.1h0.9M99.0 428.2h0.9M93.5 415.7h0.9M100.4 421.3h0.9M106.5 426.6h0.9M87.2 436.7h0.9M89.5 428.5h0.9M99.1 430.0h0.9M102.7 427.1h0.9M99.6 442.9h0.9M106.2 423.9h0.9M99.1 428.9h0.9M98.9 424.6h0.9M88.9 430.6h0.9M94.0 435.0h0.9M104.7 430.0h0.9M94.2 437.8h0.9M96.4 426.6h0.9M93.3 434.8h0.9M101.6 420.5h0.9M101.1 432.1h0.9M103.0 424.0h0.9M99.7 427.8h0.9M89.9 434.4h0.9M101.4 433.5h0.9M97.2 438.3h0.9M107.6 423.5h0.9M94.0 432.6h0.9M98.2 436.9h0.9M109.2 426.3h0.9M100.1 432.8h0.9M102.9 426.7h0.9M99.3 425.4h0.9M102.3 431.7h0.9M93.5 428.7h0.9M101.3 433.9h0.9M97.2 430.0h0.9M88.0 423.5h0.9M95.2 417.4h0.9M99.7 431.9h0.9M88.6 430.4h0.9M89.5 428.9h0.9M96.5 429.2h0.9M91.8 430.7h0.9M110.5 411.4h0.9M110.1 409.5h0.9M97.4 426.6h0.9M93.3 432.2h0.9M98.1 422.6h0.9M112.6 407.6h0.9M103.8 419.4h0.9M103.4 419.9h0.9M100.3 428.4h0.9M93.6 427.1h0.9M103.1 415.8h0.9M108.5 404.8h0.9M103.3 406.5h0.9M101.0 414.2h0.9M104.8 418.9h0.9M92.7 428.4h0.9M105.4 415.7h0.9M93.5 425.1h0.9M103.3 417.1h0.9M106.6 416.1h0.9M100.2 414.4h0.9M91.4 420.3h0.9M102.9 415.1h0.9M108.7 403.1h0.9M93.9 434.3h0.9M109.7 412.0h0.9M105.4 417.0h0.9M109.2 413.0h0.9M96.5 430.1h0.9M103.7 414.8h0.9M102.8 421.5h0.9M114.5 412.8h0.9M111.3 413.4h0.9M99.0 427.8h0.9M94.2 425.2h0.9M99.2 432.7h0.9M110.4 417.0h0.9M107.9 413.5h0.9M114.2 414.8h0.9M106.4 410.6h0.9M102.5 420.7h0.9M88.2 423.0h0.9M96.3 433.7h0.9M102.4 411.7h0.9M94.4 437.1h0.9M107.0 416.6h0.9M95.3 427.4h0.9M99.6 431.6h0.9M105.0 403.1h0.9M92.0 427.3h0.9M104.3 409.3h0.9M111.2 410.4h0.9M104.1 425.2h0.9M95.2 423.9h0.9M93.5 431.4h0.9M95.9 426.4h0.9M106.3 412.4h0.9M106.7 421.8h0.9M93.0 435.3h0.9M97.9 412.0h0.9M97.0 427.3h0.9M104.4 417.4h0.9M90.0 432.2h0.9M101.8 418.1h0.9M102.9 423.4h0.9M109.0 417.9h0.9M96.0 430.6h0.9M94.9 427.7h0.9M96.3 429.9h0.9M105.1 404.9h0.9M95.6 433.2h0.9M104.9 413.9h0.9M109.1 412.5h0.9M98.1 425.1h0.9M103.5 430.7h0.9M95.1 430.3h0.9M110.9 415.6h0.9M96.5 441.3h0.9M105.3 411.9h0.9M115.3 408.2h0.9M100.4 429.1h0.9M109.2 409.9h0.9M108.0 425.5h0.9M105.9 419.0h0.9M111.8 403.4h0.9M112.5 418.5h0.9M98.2 420.7h0.9M93.8 419.7h0.9M102.6 418.0h0.9M93.6 431.8h0.9M92.7 432.0h0.9M112.0 405.4h0.9M92.7 438.7h0.9M100.6 428.4h0.9M105.3 422.0h0.9M102.5 415.3h0.9M110.6 416.2h0.9M97.2 428.4h0.9M98.1 420.9h0.9M100.8 422.7h0.9M100.1 418.0h0.9M100.5 421.8h0.9M109.2 403.5h0.9M88.5 428.6h0.9M103.3 428.9h0.9M106.1 410.6h0.9M100.9 420.8h0.9M104.7 411.1h0.9M105.3 403.7h0.9M93.3 430.2h0.9M101.7 408.1h0.9M114.9 402.0h0.9M105.8 413.6h0.9M98.1 423.4h0.9M107.4 413.6h0.9M90.6 430.2h0.9M107.6 406.9h0.9M99.9 431.2h0.9M99.6 418.5h0.9M100.8 422.4h0.9M97.2 423.9h0.9M95.7 426.5h0.9M110.0 417.8h0.9M102.5 421.5h0.9M97.6 423.1h0.9M93.7 423.2h0.9M104.9 423.1h0.9M108.1 415.1h0.9M104.0 420.0h0.9M88.4 425.1h0.9M100.8 409.9h0.9M107.7 416.7h0.9M115.1 407.5h0.9M103.2 419.4h0.9M98.8 431.0h0.9M99.3 410.5h0.9M92.4 434.8h0.9M102.3 421.7h0.9M108.5 417.4h0.9M105.7 420.4h0.9M102.9 417.8h0.9M102.1 424.0h0.9M101.8 426.3h0.9M100.5 416.9h0.9M99.0 427.1h0.9M95.8 425.9h0.9M83.9 429.6h0.9M104.1 408.2h0.9M95.3 428.0h0.9M103.5 420.9h0.9M92.1 434.0h0.9M97.7 428.8h0.9M117.5 409.3h0.9M96.7 438.0h0.9M95.2 437.5h0.9M116.2 406.2h0.9M97.2 415.6h0.9M114.8 410.1h0.9M105.9 409.9h0.9M106.9 416.9h0.9M86.0 435.1h0.9M97.6 417.1h0.9M107.2 421.3h0.9M116.5 412.5h0.9M100.5 422.1h0.9M97.3 428.1h0.9M105.9 411.4h0.9M111.4 413.4h0.9M101.1 416.7h0.9M113.7 405.5h0.9M107.8 410.6h0.9M108.8 410.4h0.9M100.2 430.5h0.9M110.0 421.0h0.9M107.4 416.9h0.9M103.1 415.5h0.9M110.6 419.0h0.9M113.8 414.8h0.9M105.6 417.5h0.9M100.5 431.2h0.9M98.8 424.7h0.9M114.3 412.5h0.9M108.1 415.3h0.9M105.8 426.3h0.9M101.7 420.1h0.9M95.9 436.8h0.9M95.7 433.0h0.9M103.2 416.9h0.9M98.3 401.9h0.9M94.8 401.0h0.9M97.4 396.0h0.9M94.9 397.6h0.9M94.3 398.0h0.9M96.9 394.2h0.9M92.4 396.3h0.9M97.2 395.2h0.9M99.5 398.8h0.9" stroke="#111" stroke-width="0.9" fill="none"/>
<path d="M181.2 440.3h0.8M178.9 413.1h0.8M169.7 420.6h0.8M180.1 408.8h0.8M176.7 395.7h0.8M179.9 440.1h0.8M165.1 413.2h0.8M182.1 388.5h0.8M173.0 413.9h0.8M180.0 407.7h0.8M184.3 386.5h0.8M175.5 417.9h0.8M177.2 395.2h0.8M185.8 399.2h0.8M178.0 402.6h0.8M182.0 405.4h0.8M187.1 399.4h0.8M183.1 433.9h0.8M169.7 413.7h0.8M184.2 409.6h0.8M174.6 423.4h0.8M180.4 408.4h0.8M172.1 411.8h0.8M180.6 400.0h0.8M170.7 401.1h0.8M185.2 416.9h0.8M183.0 421.6h0.8M179.3 408.8h0.8M183.4 391.3h0.8M181.9 394.1h0.8M176.0 415.2h0.8M182.0 429.3h0.8M178.6 432.3h0.8M176.7 400.6h0.8M174.0 420.9h0.8M185.0 389.8h0.8M184.4 409.4h0.8M172.5 414.6h0.8M174.3 411.5h0.8M177.5 414.1h0.8M177.2 427.1h0.8M172.8 408.1h0.8M176.9 434.2h0.8M182.2 391.4h0.8M179.7 410.6h0.8M182.6 387.5h0.8M176.8 428.3h0.8M184.2 433.2h0.8M176.7 401.4h0.8M174.2 415.9h0.8M172.5 422.3h0.8M174.7 397.6h0.8M173.1 399.0h0.8M186.7 384.0h0.8M178.7 418.5h0.8M179.2 441.8h0.8M176.0 393.2h0.8M183.2 414.9h0.8M180.8 436.6h0.8M169.1 417.4h0.8M174.6 435.3h0.8M185.8 419.0h0.8M172.7 413.4h0.8M180.5 437.2h0.8M185.5 411.0h0.8M170.0 413.5h0.8M180.8 441.2h0.8M173.5 414.2h0.8M186.6 400.3h0.8M177.0 415.7h0.8M180.3 439.0h0.8M174.0 405.0h0.8M168.7 409.8h0.8M178.5 399.6h0.8M172.8 424.1h0.8M175.5 404.8h0.8M179.6 415.4h0.8M179.4 398.7h0.8M178.9 438.0h0.8M180.5 440.6h0.8M180.1 429.3h0.8M172.1 422.3h0.8M186.3 394.7h0.8M184.9 384.4h0.8M183.0 421.9h0.8M183.2 404.1h0.8M183.5 432.3h0.8M174.5 415.7h0.8M174.4 411.2h0.8M186.4 392.5h0.8M182.3 427.5h0.8M170.9 415.9h0.8M182.9 408.9h0.8M163.8 406.0h0.8M185.6 405.9h0.8M168.5 404.7h0.8M183.8 398.5h0.8M169.5 413.9h0.8M171.8 415.0h0.8M177.3 425.3h0.8M181.7 407.6h0.8M182.5 413.1h0.8M182.3 390.7h0.8M180.6 405.0h0.8M168.8 400.5h0.8M181.4 424.5h0.8M185.5 384.8h0.8M180.8 437.6h0.8M183.6 387.4h0.8M177.4 411.1h0.8M184.2 404.7h0.8M178.2 434.7h0.8M185.6 405.2h0.8M175.5 427.1h0.8M183.0 394.2h0.8M182.4 386.4h0.8M182.9 429.2h0.8M175.6 393.3h0.8M186.1 383.9h0.8M171.2 402.0h0.8M181.6 438.8h0.8M183.2 421.0h0.8M181.2 413.4h0.8M186.5 415.3h0.8M176.7 402.3h0.8M184.7 415.9h0.8M183.6 394.3h0.8M181.2 388.5h0.8M181.7 388.7h0.8M180.3 439.5h0.8M171.4 410.0h0.8M184.4 394.0h0.8M176.3 415.2h0.8M181.4 431.6h0.8M176.5 394.0h0.8M181.8 419.8h0.8M163.4 413.3h0.8M174.7 404.7h0.8M180.0 394.2h0.8M186.7 412.1h0.8M179.9 401.4h0.8M178.8 412.9h0.8M181.5 431.3h0.8M185.7 394.7h0.8M176.8 430.3h0.8M182.0 423.8h0.8M170.4 423.1h0.8M183.3 390.3h0.8M184.0 389.8h0.8M172.7 421.9h0.8M178.3 399.8h0.8M181.0 400.1h0.8M186.0 383.9h0.8M185.4 391.3h0.8M184.4 423.7h0.8M184.3 384.4h0.8M179.1 396.0h0.8M186.6 404.3h0.8M182.2 412.8h0.8M181.7 410.9h0.8M178.8 404.7h0.8M178.7 434.2h0.8M171.8 422.1h0.8M180.4 394.3h0.8M176.3 433.9h0.8M166.0 408.3h0.8M180.2 412.4h0.8M179.7 393.8h0.8M182.9 393.9h0.8M183.3 388.8h0.8M172.4 422.2h0.8M178.4 390.1h0.8M181.8 387.7h0.8M170.9 403.0h0.8M181.1 402.2h0.8M180.3 440.6h0.8M182.6 432.8h0.8M184.9 400.5h0.8M168.4 425.2h0.8M184.4 390.4h0.8M183.1 405.6h0.8M186.1 392.4h0.8M182.0 432.4h0.8M189.1 384.3h0.8M167.3 409.8h0.8M178.3 393.1h0.8M179.9 393.2h0.8M183.4 402.1h0.8M182.7 430.8h0.8M184.6 428.2h0.8M180.7 404.7h0.8M172.0 421.1h0.8M185.5 405.2h0.8M178.4 437.3h0.8M182.5 432.7h0.8M180.0 416.4h0.8M171.9 406.6h0.8M186.9 386.2h0.8M183.0 434.7h0.8M179.1 389.4h0.8M181.8 441.1h0.8M186.1 384.1h0.8M184.6 416.1h0.8M165.7 411.2h0.8M175.8 394.6h0.8M172.6 398.8h0.8M187.6 384.3h0.8M176.6 400.6h0.8M179.1 425.0h0.8M181.6 387.5h0.8M173.0 411.9h0.8M181.5 395.2h0.8M184.2 400.3h0.8M179.5 437.8h0.8M168.8 412.4h0.8M170.1 413.5h0.8M184.3 385.1h0.8M185.2 400.9h0.8M185.7 427.4h0.8M181.7 432.8h0.8M183.4 409.7h0.8M178.0 433.8h0.8M180.4 402.3h0.8M177.5 420.1h0.8M183.8 426.5h0.8M174.6 431.9h0.8M182.7 413.0h0.8M181.1 441.1h0.8M176.7 415.0h0.8M177.0 392.2h0.8M187.1 411.3h0.8M174.2 397.5h0.8M176.9 411.9h0.8M185.5 390.2h0.8M178.6 390.6h0.8M178.6 429.9h0.8M179.7 427.6h0.8M167.1 410.6h0.8M180.3 417.8h0.8M180.3 416.6h0.8M184.7 385.0h0.8M177.8 395.7h0.8M180.0 438.9h0.8M178.2 415.8h0.8M181.6 428.7h0.8M182.6 386.2h0.8M185.6 422.7h0.8M178.3 422.6h0.8M183.5 415.7h0.8M178.7 411.3h0.8M186.5 416.7h0.8M182.0 426.8h0.8M180.8 440.4h0.8M173.5 411.5h0.8M183.6 403.5h0.8M175.6 409.2h0.8M183.3 388.6h0.8M182.1 411.4h0.8M177.7 435.0h0.8M178.0 397.2h0.8M176.8 429.2h0.8M177.7 435.9h0.8M184.3 421.5h0.8M177.1 393.6h0.8M175.9 397.5h0.8M185.1 389.6h0.8M186.4 403.7h0.8M185.7 401.0h0.8M174.7 412.4h0.8M180.4 393.5h0.8M182.4 398.8h0.8M178.9 419.4h0.8M180.2 438.4h0.8M177.4 428.9h0.8M185.2 426.9h0.8M178.9 424.9h0.8M174.7 396.2h0.8M185.4 395.6h0.8M180.6 427.5h0.8M177.6 432.4h0.8M168.7 404.0h0.8M182.0 419.6h0.8M179.9 427.3h0.8M173.2 414.5h0.8M179.9 415.2h0.8M180.9 440.8h0.8M186.0 386.5h0.8M172.9 420.3h0.8M177.2 417.8h0.8M186.0 385.4h0.8M175.2 429.6h0.8M175.6 415.4h0.8M171.9 409.8h0.8M183.0 412.8h0.8M172.0 406.3h0.8M185.7 424.3h0.8M187.2 385.3h0.8M178.7 412.9h0.8M181.0 417.6h0.8M173.1 415.3h0.8M183.6 415.4h0.8M176.5 428.1h0.8M186.6 401.8h0.8M180.2 392.4h0.8M188.7 394.5h0.8M171.1 411.0h0.8M185.8 385.5h0.8M182.3 399.9h0.8M167.1 401.5h0.8M174.8 398.8h0.8M174.3 431.4h0.8M177.3 411.0h0.8M182.0 436.7h0.8M178.6 400.4h0.8M169.5 415.6h0.8M186.1 390.3h0.8M179.6 413.7h0.8M178.0 394.7h0.8M177.2 426.6h0.8M176.8 430.9h0.8M178.4 425.4h0.8M183.9 399.6h0.8M165.9 413.9h0.8M179.8 415.5h0.8M182.0 424.0h0.8M181.6 392.6h0.8M182.2 411.0h0.8M175.6 417.9h0.8M185.1 402.4h0.8M172.3 419.4h0.8M187.7 386.8h0.8M178.0 396.0h0.8M181.6 422.8h0.8M185.8 419.6h0.8M177.4 437.0h0.8M186.2 388.5h0.8M178.4 434.1h0.8M176.4 431.6h0.8M177.4 412.7h0.8M173.0 427.2h0.8M181.3 397.2h0.8M174.2 406.2h0.8M172.7 397.7h0.8M182.2 403.1h0.8M179.8 430.3h0.8M179.1 423.4h0.8M173.0 428.7h0.8M174.5 414.5h0.8M186.9 405.1h0.8M183.9 437.5h0.8M178.4 416.7h0.8M179.7 436.4h0.8M177.1 421.6h0.8M176.9 396.0h0.8M177.4 396.8h0.8M182.7 398.4h0.8M178.0 433.4h0.8M176.3 429.0h0.8M173.4 412.7h0.8M175.6 400.7h0.8M174.5 396.0h0.8M177.1 416.6h0.8M174.4 429.4h0.8M185.6 423.3h0.8M174.6 404.5h0.8M187.1 413.7h0.8M177.6 433.3h0.8M178.5 428.7h0.8M172.7 418.8h0.8M183.3 430.4h0.8M186.0 421.0h0.8M179.7 387.2h0.8M171.2 415.2h0.8M181.4 429.2h0.8M184.7 387.1h0.8M180.6 440.5h0.8M182.2 391.7h0.8M182.5 395.6h0.8M177.2 395.0h0.8M177.6 411.3h0.8M183.4 392.4h0.8M168.9 407.8h0.8M167.8 419.3h0.8M181.2 401.3h0.8M166.8 415.6h0.8M175.7 432.9h0.8M179.5 392.0h0.8M171.4 416.0h0.8M183.5 399.6h0.8M188.0 383.8h0.8M177.5 423.0h0.8M175.1 433.0h0.8M172.7 395.0h0.8M172.7 428.0h0.8M167.1 415.9h0.8M175.9 394.8h0.8M176.6 409.1h0.8M177.0 406.9h0.8M181.4 402.0h0.8M175.4 429.2h0.8M175.1 417.9h0.8M182.6 416.9h0.8M187.5 395.7h0.8M182.4 409.9h0.8M187.3 404.1h0.8M176.5 401.4h0.8M173.8 420.2h0.8M183.3 415.0h0.8M185.0 426.2h0.8M185.0 394.0h0.8M167.3 409.5h0.8M172.2 402.3h0.8M187.7 406.1h0.8M176.5 405.0h0.8M181.6 403.2h0.8M187.5 392.4h0.8M186.1 425.0h0.8M183.0 428.1h0.8M179.2 407.2h0.8M182.3 425.3h0.8M182.4 430.3h0.8M171.6 421.7h0.8M177.8 402.0h0.8M176.1 415.2h0.8M181.6 425.4h0.8M182.0 404.2h0.8M179.9 393.6h0.8M169.9 399.1h0.8M181.5 389.6h0.8M181.5 387.8h0.8M187.0 393.3h0.8M182.9 428.5h0.8M172.9 408.6h0.8M176.9 422.0h0.8M184.5 409.3h0.8M175.6 399.5h0.8M178.0 408.8h0.8M169.7 423.1h0.8M180.5 438.3h0.8M176.5 409.8h0.8M181.6 394.0h0.8M180.4 395.6h0.8M182.3 434.1h0.8M186.0 402.6h0.8M185.3 388.2h0.8M187.0 390.5h0.8M180.2 394.8h0.8M183.2 438.1h0.8M182.9 430.9h0.8M180.9 426.4h0.8M182.1 438.3h0.8M167.5 414.9h0.8M168.7 420.4h0.8M183.6 385.2h0.8M182.4 437.4h0.8M180.3 411.3h0.8M176.2 412.0h0.8M187.1 392.0h0.8M186.6 384.4h0.8M175.7 399.7h0.8M174.5 420.8h0.8M166.4 405.2h0.8M175.1 426.3h0.8M179.8 419.7h0.8M167.6 414.0h0.8M168.8 405.0h0.8M183.4 409.2h0.8M186.5 422.3h0.8M177.9 402.6h0.8M183.0 387.4h0.8M180.6 429.9h0.8M180.4 436.2h0.8M179.0 411.5h0.8M186.8 398.5h0.8M186.7 408.3h0.8M167.3 406.5h0.8M181.3 427.6h0.8M178.9 439.5h0.8M183.2 434.0h0.8M171.4 421.1h0.8M183.4 429.9h0.8M178.9 425.0h0.8M177.2 426.9h0.8M168.7 416.7h0.8M185.8 386.8h0.8M170.8 399.0h0.8M183.1 400.3h0.8M170.4 425.5h0.8M185.9 386.6h0.8M173.3 422.1h0.8M180.2 437.8h0.8M177.1 422.7h0.8M173.1 412.3h0.8M168.1 412.2h0.8M179.4 427.7h0.8M178.6 394.9h0.8M177.6 393.8h0.8M187.6 389.1h0.8M176.9 434.0h0.8M184.3 389.4h0.8M178.1 422.9h0.8M181.8 421.8h0.8M178.3 437.9h0.8M185.7 390.0h0.8M179.2 410.7h0.8M183.0 408.5h0.8M184.1 429.8h0.8M181.3 394.7h0.8M177.9 405.5h0.8M180.7 393.6h0.8M170.2 424.5h0.8M181.9 437.2h0.8M169.4 419.1h0.8M180.1 409.8h0.8M178.9 433.0h0.8M175.7 396.4h0.8M176.3 432.3h0.8M181.8 405.0h0.8M180.5 437.6h0.8M183.2 421.5h0.8M171.3 404.9h0.8M185.7 388.0h0.8M181.7 439.0h0.8M182.1 410.8h0.8M174.9 404.5h0.8M171.1 410.5h0.8M174.9 418.2h0.8M168.5 415.0h0.8M181.7 402.4h0.8M182.8 403.4h0.8M181.8 438.0h0.8M184.3 399.0h0.8M183.1 420.7h0.8M173.9 421.2h0.8M185.4 414.3h0.8M178.4 436.7h0.8M179.5 393.0h0.8M177.2 429.5h0.8M170.6 412.8h0.8M180.0 400.1h0.8M170.6 400.1h0.8M185.7 417.3h0.8M175.0 410.7h0.8M166.9 417.4h0.8M184.5 390.4h0.8M183.5 395.4h0.8M173.2 410.4h0.8M185.4 392.7h0.8M177.9 428.5h0.8M171.3 405.0h0.8M171.3 399.9h0.8M178.3 404.2h0.8M167.0 404.8h0.8M175.8 434.1h0.8M171.3 402.9h0.8M176.8 412.3h0.8M178.0 424.8h0.8M179.2 404.0h0.8M168.3 410.4h0.8M172.1 404.0h0.8M175.2 409.7h0.8M179.8 437.5h0.8M181.2 434.9h0.8M179.3 390.6h0.8M177.0 395.9h0.8M181.5 402.3h0.8M184.4 401.4h0.8M186.5 384.3h0.8M186.8 401.0h0.8M183.5 408.3h0.8M181.5 416.2h0.8M185.6 392.6h0.8M168.9 404.9h0.8M182.4 400.2h0.8M179.2 413.3h0.8M182.6 431.8h0.8M185.6 386.1h0.8M176.2 422.3h0.8M182.1 410.9h0.8M177.3 399.4h0.8M187.3 396.2h0.8M186.3 408.6h0.8M183.1 413.5h0.8M174.2 398.3h0.8M180.2 429.5h0.8M182.7 434.8h0.8M184.2 402.1h0.8M178.6 417.2h0.8M175.5 433.6h0.8M179.5 434.2h0.8M178.0 434.4h0.8M164.4 413.7h0.8M181.1 428.5h0.8M180.0 397.8h0.8M177.0 398.7h0.8M176.0 423.2h0.8M183.5 425.4h0.8M186.6 388.7h0.8M179.6 425.5h0.8M182.2 426.3h0.8M184.3 424.3h0.8M177.3 406.2h0.8M185.2 404.6h0.8M178.9 399.5h0.8M180.1 434.4h0.8M183.3 385.3h0.8M184.2 387.3h0.8M165.8 412.7h0.8M169.3 419.7h0.8M172.3 397.9h0.8M181.4 402.5h0.8M183.2 398.2h0.8M185.7 384.6h0.8M173.9 429.6h0.8M177.9 415.3h0.8M182.4 431.1h0.8M175.1 399.5h0.8M175.8 427.9h0.8M175.0 431.5h0.8M180.5 439.7h0.8M173.1 418.2h0.8M185.0 419.7h0.8M180.2 392.2h0.8M183.5 394.2h0.8M183.9 407.6h0.8M185.5 399.1h0.8M169.2 415.8h0.8M185.1 393.5h0.8M183.1 433.9h0.8M182.5 433.0h0.8M183.1 436.9h0.8M175.6 403.6h0.8M175.6 412.5h0.8M186.9 415.2h0.8M184.1 422.2h0.8M181.0 409.0h0.8M168.8 403.5h0.8M185.3 397.9h0.8M180.1 400.4h0.8M181.6 434.0h0.8M185.3 430.4h0.8M185.3 420.0h0.8M187.7 388.6h0.8M173.4 428.7h0.8M183.7 390.8h0.8M173.1 419.8h0.8M178.4 429.7h0.8M183.4 386.1h0.8M175.2 433.0h0.8M168.4 415.2h0.8M182.1 390.0h0.8M182.2 399.2h0.8M176.7 400.9h0.8M180.0 439.5h0.8M184.6 398.6h0.8M180.7 411.0h0.8M187.6 387.8h0.8M181.6 397.8h0.8M182.2 437.6h0.8M183.3 427.4h0.8M172.9 412.1h0.8M182.7 411.2h0.8M170.5 414.0h0.8M181.8 433.6h0.8M184.4 393.2h0.8M177.1 426.1h0.8M179.9 398.6h0.8M173.8 402.7h0.8M173.1 425.8h0.8M172.2 401.8h0.8M185.5 385.9h0.8M173.5 403.3h0.8M184.6 423.8h0.8M177.7 420.1h0.8M170.8 407.6h0.8M172.1 410.7h0.8M185.7 400.9h0.8M173.9 421.1h0.8M187.2 390.2h0.8M188.6 395.1h0.8M183.0 418.9h0.8M173.4 421.0h0.8M174.8 430.5h0.8M175.6 413.7h0.8M172.9 425.5h0.8M184.9 410.2h0.8M176.4 414.9h0.8M177.1 413.9h0.8M180.6 398.0h0.8M180.7 428.8h0.8M179.0 391.8h0.8M182.8 388.2h0.8M170.8 421.6h0.8M180.2 394.6h0.8M176.9 395.8h0.8M175.2 395.8h0.8M184.2 422.6h0.8M164.7 405.3h0.8M172.3 424.5h0.8M177.8 396.1h0.8M185.2 385.4h0.8M183.7 420.0h0.8M186.1 404.0h0.8M177.9 412.0h0.8M185.7 389.7h0.8M179.1 437.7h0.8M185.4 408.8h0.8M182.9 412.5h0.8M174.4 413.1h0.8M171.1 407.7h0.8M171.3 404.9h0.8M182.6 400.3h0.8M185.8 383.8h0.8M186.0 385.0h0.8M175.2 424.7h0.8M186.0 414.9h0.8M180.5 406.9h0.8M177.9 412.6h0.8M182.2 388.9h0.8M176.0 426.5h0.8M177.2 433.9h0.8M172.3 424.5h0.8M182.1 397.0h0.8M172.0 425.2h0.8M174.5 414.5h0.8M166.0 413.2h0.8M180.3 431.9h0.8M185.3 391.3h0.8M165.0 413.8h0.8M175.7 398.3h0.8M168.4 414.8h0.8M172.9 413.4h0.8M176.9 419.7h0.8M185.6 402.3h0.8M178.3 437.3h0.8M181.7 421.1h0.8M186.6 391.5h0.8M188.7 397.8h0.8M182.3 419.1h0.8M174.7 428.6h0.8M173.4 395.2h0.8M185.6 385.1h0.8M185.0 409.6h0.8M173.9 398.4h0.8M187.8 384.6h0.8M181.5 396.0h0.8M185.6 427.9h0.8M182.6 386.9h0.8M175.5 393.7h0.8M178.4 432.8h0.8M184.7 413.7h0.8M179.2 430.7h0.8M186.2 396.3h0.8M177.2 408.8h0.8M180.9 412.3h0.8M186.8 392.5h0.8M169.4 413.9h0.8M181.2 434.9h0.8M178.2 430.6h0.8M167.9 403.5h0.8M174.3 400.3h0.8M181.0 431.9h0.8M175.7 393.8h0.8M181.5 398.9h0.8M176.4 410.0h0.8M176.1 423.8h0.8M177.6 414.3h0.8M175.2 410.6h0.8M177.0 420.2h0.8M170.8 403.6h0.8M178.6 412.1h0.8M179.9 401.7h0.8M180.4 432.5h0.8M183.2 405.4h0.8M181.5 429.6h0.8M174.9 402.1h0.8M186.1 390.3h0.8M181.2 423.5h0.8M180.7 435.9h0.8M178.6 389.9h0.8M168.2 400.7h0.8M180.5 389.2h0.8M182.1 392.9h0.8M172.0 423.8h0.8M175.4 400.1h0.8M186.7 383.8h0.8M179.1 389.6h0.8M170.7 405.5h0.8M185.3 424.9h0.8M185.4 388.3h0.8M186.8 402.8h0.8M182.5 390.5h0.8M180.1 417.4h0.8M182.4 410.0h0.8M184.5 385.8h0.8M176.7 410.4h0.8M184.5 428.8h0.8M182.3 389.5h0.8M166.9 406.1h0.8M183.8 429.3h0.8M183.0 440.0h0.8M181.6 391.5h0.8M167.9 404.4h0.8M180.0 441.0h0.8M182.2 427.1h0.8M175.4 429.7h0.8M181.6 413.1h0.8M166.4 406.3h0.8M164.6 413.0h0.8M187.1 392.6h0.8M183.1 387.8h0.8M186.6 384.2h0.8M170.0 417.0h0.8M175.6 427.8h0.8M180.2 415.5h0.8M181.2 434.7h0.8M186.6 402.1h0.8M169.1 400.6h0.8M188.0 385.7h0.8M188.3 418.6h0.8M174.5 405.4h0.8M184.0 424.0h0.8M179.5 441.6h0.8M181.7 434.7h0.8M186.9 417.2h0.8M176.4 404.0h0.8M170.1 407.4h0.8M180.0 432.8h0.8M170.2 419.2h0.8M182.2 394.5h0.8M186.3 391.2h0.8M176.8 403.1h0.8M180.5 415.4h0.8M180.5 405.9h0.8M174.5 413.6h0.8M181.8 394.4h0.8M186.9 405.5h0.8M180.0 403.2h0.8M183.9 428.8h0.8M171.7 425.3h0.8M180.9 391.2h0.8M176.2 393.9h0.8M171.7 415.5h0.8M181.7 402.9h0.8M184.7 419.8h0.8M186.2 388.0h0.8M173.4 413.6h0.8M178.0 433.1h0.8M180.4 397.5h0.8M176.4 405.2h0.8M180.5 394.2h0.8M179.5 440.6h0.8M177.7 412.8h0.8M173.1 427.6h0.8M179.2 415.9h0.8M174.7 433.0h0.8M176.4 436.7h0.8M171.3 404.6h0.8M184.1 437.4h0.8M174.1 418.5h0.8M184.5 411.3h0.8M186.5 417.4h0.8M174.4 401.8h0.8M179.6 432.5h0.8M184.6 407.1h0.8M183.2 429.3h0.8M169.2 404.0h0.8M180.7 405.5h0.8M179.7 396.7h0.8M182.9 436.3h0.8M181.1 389.5h0.8M173.7 404.4h0.8M177.9 395.1h0.8M182.4 392.2h0.8M182.0 400.0h0.8M186.2 395.8h0.8M181.3 391.9h0.8M186.0 401.7h0.8M167.6 411.6h0.8M181.7 431.7h0.8M183.8 431.6h0.8M178.3 437.5h0.8M182.5 435.9h0.8M186.4 405.0h0.8M186.4 419.3h0.8M172.6 426.9h0.8M179.2 439.1h0.8M178.8 394.4h0.8M178.1 396.1h0.8M179.6 440.9h0.8M186.2 387.1h0.8M180.1 436.1h0.8M175.5 401.6h0.8M183.4 418.8h0.8M184.9 425.2h0.8M173.7 401.5h0.8M171.7 409.0h0.8M180.6 391.6h0.8M186.3 416.4h0.8M175.8 397.6h0.8M176.5 427.9h0.8M180.9 388.8h0.8M176.0 397.4h0.8M169.0 411.7h0.8M183.5 430.8h0.8M178.5 436.3h0.8M182.7 429.3h0.8M167.2 403.4h0.8M178.2 419.3h0.8M168.0 400.8h0.8M186.2 393.9h0.8M184.8 399.1h0.8M175.4 397.7h0.8M179.3 433.4h0.8M186.6 428.4h0.8M185.5 392.0h0.8M179.1 392.4h0.8M174.1 417.7h0.8M184.5 409.4h0.8M182.3 437.5h0.8M182.0 409.4h0.8M181.2 425.8h0.8M173.7 427.9h0.8M178.7 388.8h0.8M181.3 389.9h0.8M185.9 385.4h0.8M181.9 387.9h0.8M175.8 434.8h0.8M188.0 418.3h0.8M171.6 410.3h0.8M182.7 430.4h0.8M181.8 401.3h0.8M183.2 433.7h0.8M168.4 419.1h0.8M178.9 391.6h0.8M183.2 413.6h0.8M183.8 389.0h0.8M182.0 428.5h0.8M178.3 432.4h0.8M183.0 387.5h0.8M173.4 424.8h0.8M181.0 424.7h0.8M179.6 435.9h0.8M179.3 411.6h0.8M176.4 396.4h0.8M184.7 417.9h0.8M184.2 418.2h0.8M180.4 387.1h0.8M177.2 421.2h0.8M179.1 436.7h0.8M186.4 419.1h0.8M178.9 423.1h0.8M169.8 411.5h0.8M178.9 397.4h0.8M175.8 425.7h0.8M174.6 428.8h0.8M176.4 429.5h0.8M178.7 390.6h0.8M176.2 427.9h0.8M186.2 407.3h0.8M176.3 418.7h0.8M174.6 432.4h0.8M175.7 396.9h0.8M172.6 396.7h0.8M178.8 404.8h0.8M172.8 399.6h0.8M170.4 416.8h0.8M177.9 406.7h0.8M180.7 394.7h0.8M184.9 392.7h0.8M183.5 424.5h0.8M186.4 419.2h0.8M179.5 426.0h0.8M184.0 405.8h0.8M186.8 386.3h0.8M184.1 412.0h0.8M172.9 428.8h0.8M180.0 434.9h0.8M177.2 428.4h0.8M175.3 430.8h0.8M186.9 386.6h0.8M186.3 404.3h0.8M186.9 403.7h0.8M185.3 421.0h0.8M172.3 405.1h0.8M168.2 417.3h0.8M179.4 434.1h0.8M185.2 405.7h0.8M179.2 392.5h0.8M182.1 410.7h0.8M183.7 402.3h0.8M181.2 393.3h0.8M187.2 418.6h0.8M185.6 420.7h0.8M168.5 414.1h0.8M183.0 384.1h0.8M173.6 404.5h0.8M179.6 423.4h0.8M181.1 408.3h0.8M183.1 404.4h0.8M182.5 428.8h0.8M173.8 403.2h0.8M186.5 415.6h0.8M177.4 430.9h0.8M170.1 410.3h0.8M185.2 385.4h0.8M178.4 411.7h0.8M171.7 396.3h0.8M174.7 406.5h0.8M167.9 408.3h0.8M179.2 438.8h0.8M178.5 417.3h0.8M184.5 416.7h0.8M181.9 404.9h0.8M170.9 424.0h0.8M182.8 431.0h0.8M168.6 414.3h0.8M184.8 424.3h0.8M179.1 433.9h0.8M174.7 396.5h0.8M181.1 439.2h0.8M175.3 430.0h0.8M174.8 394.9h0.8M175.4 412.0h0.8M186.0 425.5h0.8M170.9 399.0h0.8M171.1 409.0h0.8M180.2 437.0h0.8M176.1 413.1h0.8M175.2 398.6h0.8M179.3 398.1h0.8M184.7 404.6h0.8M175.0 423.4h0.8M184.0 421.1h0.8M171.0 415.0h0.8M181.2 432.3h0.8M180.0 439.3h0.8M187.1 396.4h0.8M177.4 416.8h0.8M179.2 437.0h0.8M177.3 414.2h0.8M175.9 429.1h0.8M169.2 414.7h0.8M182.6 391.9h0.8M183.5 389.0h0.8M175.7 422.0h0.8M185.0 428.2h0.8M185.0 410.0h0.8M185.1 386.7h0.8M177.9 418.3h0.8M182.6 411.7h0.8M181.4 439.2h0.8M183.0 420.6h0.8M184.3 384.8h0.8M170.2 406.1h0.8M170.9 416.4h0.8M175.5 427.4h0.8M175.0 401.3h0.8M183.0 389.8h0.8M185.3 415.6h0.8M179.4 431.5h0.8M177.7 431.9h0.8M186.0 403.4h0.8M181.4 434.4h0.8M184.8 421.2h0.8M180.9 413.8h0.8M183.1 393.1h0.8M186.9 393.3h0.8M180.0 434.7h0.8M174.1 402.0h0.8M181.2 435.0h0.8M172.4 395.5h0.8M179.2 423.1h0.8M186.3 391.3h0.8M184.6 429.7h0.8M187.3 387.1h0.8M167.5 417.4h0.8M185.1 422.6h0.8M185.0 406.9h0.8M180.5 431.0h0.8M179.3 434.5h0.8M177.1 414.2h0.8M186.8 390.2h0.8M180.6 411.7h0.8M183.9 423.7h0.8M171.8 399.8h0.8M182.0 408.8h0.8M164.0 409.1h0.8M174.2 420.6h0.8M174.2 398.7h0.8M183.4 387.1h0.8M182.4 432.8h0.8M183.1 410.6h0.8M180.9 442.1h0.8M177.8 414.5h0.8M184.2 419.8h0.8M172.7 421.1h0.8M175.0 399.9h0.8M173.4 411.0h0.8M184.1 396.8h0.8M180.4 432.6h0.8M183.6 388.7h0.8M178.1 431.9h0.8M175.8 433.9h0.8M180.6 440.7h0.8M169.7 419.5h0.8M181.4 420.8h0.8M176.3 434.5h0.8M171.1 420.8h0.8M183.7 433.3h0.8M179.3 398.2h0.8M186.9 415.3h0.8M185.4 406.6h0.8M181.5 408.5h0.8M180.1 428.3h0.8M175.2 435.3h0.8M180.5 415.5h0.8M187.4 402.8h0.8M181.6 387.5h0.8M179.7 409.7h0.8M177.8 414.6h0.8M185.0 426.3h0.8M186.4 390.3h0.8M181.9 396.9h0.8M170.7 423.7h0.8M187.4 401.5h0.8M182.1 407.8h0.8M180.8 394.2h0.8M185.5 391.0h0.8M167.5 402.8h0.8M180.9 405.6h0.8M171.9 419.2h0.8M179.0 395.1h0.8M180.3 434.9h0.8M180.0 412.6h0.8M186.5 400.9h0.8M176.5 413.7h0.8M181.9 433.9h0.8M178.6 436.9h0.8M186.1 389.3h0.8M182.7 404.2h0.8M181.3 415.3h0.8M180.0 401.2h0.8M178.4 421.1h0.8M188.5 402.4h0.8M176.6 429.0h0.8M170.3 407.4h0.8M176.0 404.7h0.8M170.1 407.5h0.8M181.8 393.5h0.8M179.9 409.8h0.8M182.2 428.1h0.8M180.6 438.5h0.8M181.7 396.5h0.8M184.2 393.8h0.8M182.5 432.8h0.8M182.3 405.9h0.8M180.3 412.7h0.8M182.8 436.5h0.8M179.2 429.4h0.8M184.1 403.5h0.8M180.3 393.5h0.8M179.2 390.0h0.8M183.4 410.3h0.8M177.8 402.9h0.8M182.5 395.9h0.8M179.1 407.6h0.8M180.6 413.7h0.8M186.7 388.4h0.8M183.4 391.4h0.8M168.0 407.0h0.8M186.7 396.9h0.8M176.7 418.5h0.8M182.2 398.6h0.8M168.9 413.0h0.8M174.9 430.8h0.8M174.6 396.0h0.8M170.8 418.7h0.8M186.7 417.8h0.8M172.3 403.3h0.8M172.9 405.5h0.8M175.9 412.6h0.8M181.9 415.6h0.8M182.9 428.9h0.8M183.0 418.1h0.8M184.6 428.8h0.8M181.2 435.5h0.8M174.4 419.1h0.8M179.2 419.4h0.8M171.8 407.9h0.8M178.9 407.9h0.8M176.3 419.7h0.8M178.6 439.1h0.8M184.5 402.8h0.8M181.0 390.9h0.8M171.7 405.6h0.8M187.0 390.1h0.8M182.4 404.1h0.8M180.0 436.6h0.8M181.5 398.3h0.8M176.9 418.4h0.8M175.0 426.6h0.8M174.6 415.0h0.8M175.7 407.4h0.8M183.1 430.2h0.8M180.9 415.6h0.8M180.1 439.9h0.8M181.7 419.7h0.8M172.8 411.3h0.8M169.5 422.5h0.8M183.5 391.0h0.8M172.7 426.1h0.8M166.0 402.4h0.8M174.3 422.8h0.8M173.2 427.5h0.8M186.0 420.2h0.8M181.0 398.4h0.8M183.2 419.1h0.8M177.6 407.6h0.8M177.1 433.0h0.8M185.9 388.1h0.8M178.5 430.7h0.8M171.1 407.6h0.8M172.5 418.6h0.8M183.6 422.9h0.8M186.1 392.0h0.8M185.8 389.9h0.8M169.7 414.8h0.8M182.8 420.9h0.8M186.0 393.2h0.8M180.0 399.0h0.8M181.4 388.6h0.8M183.6 422.1h0.8M185.4 407.1h0.8M183.4 401.1h0.8M180.9 414.1h0.8M178.9 436.1h0.8M178.6 406.4h0.8M178.6 432.6h0.8M170.1 409.6h0.8M183.0 388.3h0.8M182.1 390.2h0.8M179.5 402.6h0.8M184.8 392.6h0.8M184.9 425.8h0.8M186.6 396.8h0.8M183.9 386.8h0.8M170.0 419.1h0.8M185.5 396.7h0.8M178.3 426.3h0.8M178.3 433.3h0.8M175.5 413.1h0.8M183.8 404.6h0.8M171.4 400.3h0.8M178.5 409.2h0.8M180.6 439.9h0.8M173.8 398.5h0.8M179.8 395.4h0.8M182.2 438.5h0.8M180.7 429.6h0.8M180.5 390.3h0.8M177.3 392.2h0.8M184.7 384.7h0.8M178.5 413.3h0.8M175.4 393.7h0.8M176.7 421.5h0.8M169.8 419.4h0.8M179.3 424.6h0.8M182.6 412.9h0.8M177.9 417.8h0.8M171.0 420.6h0.8M185.0 420.2h0.8M178.9 392.6h0.8M181.7 433.5h0.8M182.1 418.5h0.8M180.5 416.9h0.8M170.1 403.7h0.8M177.0 432.0h0.8M180.9 419.0h0.8M166.7 422.1h0.8M168.0 400.9h0.8M187.3 410.0h0.8M167.9 420.4h0.8M172.8 410.6h0.8M171.3 423.1h0.8M180.4 405.7h0.8M171.7 404.2h0.8M173.6 422.6h0.8M176.2 401.0h0.8M179.2 394.0h0.8M171.2 409.8h0.8M184.9 407.6h0.8M176.3 434.7h0.8M174.0 398.8h0.8M177.0 410.1h0.8M175.0 426.1h0.8M185.7 388.9h0.8M180.2 433.8h0.8M176.3 413.2h0.8M176.8 430.7h0.8M181.6 387.3h0.8M164.4 405.7h0.8M181.3 394.8h0.8M171.3 404.9h0.8M183.6 393.1h0.8M171.9 417.6h0.8M186.7 395.1h0.8M181.6 389.2h0.8M181.8 414.5h0.8M173.4 423.1h0.8M169.5 409.2h0.8M185.2 409.6h0.8M185.6 399.7h0.8M185.2 429.0h0.8M181.0 438.8h0.8M181.2 439.4h0.8M180.7 415.9h0.8M181.1 429.5h0.8M184.3 402.7h0.8M183.1 417.6h0.8M182.1 428.0h0.8M169.8 419.4h0.8M183.8 427.9h0.8M179.9 430.7h0.8M178.8 405.7h0.8M178.9 421.7h0.8M181.2 418.5h0.8M182.2 426.1h0.8M183.5 429.0h0.8M180.4 438.3h0.8M184.0 406.8h0.8M168.5 414.7h0.8M182.1 431.1h0.8M185.8 388.1h0.8M182.7 432.3h0.8M187.4 420.1h0.8M177.6 420.1h0.8M175.3 422.2h0.8M177.5 434.6h0.8M174.1 412.4h0.8M184.0 389.4h0.8M171.3 414.4h0.8M186.6 404.7h0.8M171.6 412.6h0.8M186.2 403.6h0.8M180.4 395.9h0.8M179.6 409.3h0.8M169.8 417.6h0.8M166.1 414.1h0.8M181.8 425.6h0.8M172.5 395.4h0.8M169.6 413.1h0.8M175.2 428.1h0.8M184.9 413.2h0.8M181.9 426.8h0.8M186.7 385.1h0.8M181.7 428.6h0.8M178.4 399.8h0.8M179.6 427.2h0.8M171.0 405.9h0.8M170.0 410.7h0.8M178.0 401.5h0.8M184.2 416.2h0.8M184.6 423.9h0.8M183.1 396.0h0.8M175.8 411.4h0.8M176.2 435.7h0.8M178.8 393.3h0.8M179.1 410.5h0.8M172.8 416.8h0.8M169.2 407.4h0.8M176.7 404.7h0.8M182.9 429.1h0.8M185.9 397.7h0.8M185.6 389.1h0.8M167.3 408.7h0.8M178.3 433.0h0.8M181.3 441.6h0.8M170.6 403.3h0.8M183.7 403.6h0.8M175.7 433.7h0.8M170.6 417.4h0.8M170.0 418.4h0.8M183.4 429.2h0.8M175.2 399.0h0.8M172.0 400.3h0.8M182.3 390.5h0.8M179.4 441.6h0.8M179.3 417.5h0.8M170.8 421.4h0.8M182.3 399.9h0.8M183.3 408.4h0.8M166.1 407.4h0.8M170.6 405.5h0.8M185.3 385.9h0.8M171.0 406.2h0.8M169.9 401.5h0.8M179.4 396.1h0.8M184.8 389.8h0.8M181.2 401.6h0.8M180.0 433.4h0.8M185.9 387.3h0.8M175.5 435.9h0.8M170.1 422.8h0.8M182.4 432.1h0.8M180.2 439.1h0.8M181.6 394.3h0.8M169.1 421.9h0.8M181.3 439.2h0.8M182.5 429.8h0.8M177.2 436.6h0.8M182.0 425.8h0.8M171.7 407.1h0.8M184.9 394.2h0.8M181.1 400.0h0.8M179.8 397.6h0.8M181.0 390.1h0.8M183.9 419.4h0.8M180.2 433.7h0.8M181.1 399.8h0.8M182.2 418.8h0.8M180.7 437.1h0.8M172.0 427.4h0.8M168.8 413.5h0.8M180.5 431.5h0.8M187.8 385.1h0.8M171.4 410.3h0.8M185.7 388.2h0.8M179.8 439.5h0.8M168.0 414.2h0.8M164.1 407.7h0.8M183.4 430.1h0.8M180.7 403.6h0.8M176.8 428.8h0.8M181.5 389.7h0.8M178.7 430.1h0.8M172.2 405.5h0.8M184.8 428.1h0.8M179.8 433.7h0.8M180.8 397.7h0.8M180.0 396.7h0.8M185.5 387.1h0.8M178.9 389.6h0.8M168.9 414.2h0.8M187.5 386.3h0.8M179.1 409.6h0.8M183.2 428.3h0.8M185.5 392.9h0.8M185.5 387.1h0.8M180.8 438.7h0.8M172.4 417.7h0.8M175.4 409.7h0.8M174.5 429.1h0.8M173.3 412.2h0.8M180.1 439.5h0.8M181.4 387.3h0.8M180.5 431.4h0.8M169.8 420.1h0.8M181.4 435.8h0.8M171.4 427.2h0.8M185.8 414.7h0.8M184.7 426.9h0.8M185.7 384.5h0.8M176.2 395.0h0.8M184.2 413.0h0.8M187.0 383.8h0.8M185.7 390.8h0.8M178.0 395.1h0.8M173.9 411.8h0.8M173.1 398.5h0.8M182.7 393.1h0.8M173.8 403.1h0.8M174.7 426.8h0.8M184.1 421.5h0.8M171.7 421.3h0.8M180.9 430.5h0.8M173.4 399.2h0.8M185.3 413.7h0.8M169.7 399.2h0.8M182.1 435.2h0.8M174.3 418.6h0.8M172.5 406.9h0.8M177.3 431.4h0.8M182.3 424.0h0.8M181.0 430.1h0.8M182.1 419.9h0.8M185.9 397.1h0.8M181.5 417.3h0.8M176.1 430.3h0.8M180.3 424.4h0.8M179.6 395.2h0.8M184.8 415.2h0.8M172.7 423.3h0.8M183.0 399.0h0.8M172.3 407.3h0.8M171.1 407.6h0.8M173.0 418.1h0.8M178.1 441.8h0.8M188.0 413.7h0.8M182.6 396.6h0.8M169.4 403.6h0.8M176.1 408.1h0.8M183.7 406.1h0.8M177.5 399.3h0.8M182.1 403.5h0.8M180.0 404.5h0.8M181.5 403.4h0.8M176.2 417.9h0.8M178.9 392.9h0.8M180.2 400.8h0.8M167.0 407.2h0.8M177.5 420.2h0.8M185.2 420.7h0.8M183.6 391.5h0.8M185.7 400.5h0.8M186.0 402.4h0.8M178.7 432.3h0.8M182.8 414.9h0.8M187.5 398.6h0.8M178.3 398.0h0.8M178.1 391.6h0.8M178.6 390.7h0.8M186.2 385.7h0.8M173.6 433.7h0.8M166.4 407.2h0.8M184.3 386.1h0.8M168.3 420.3h0.8M181.6 438.1h0.8M171.7 425.0h0.8M177.7 392.5h0.8M187.4 386.0h0.8M186.3 394.0h0.8M186.6 384.7h0.8M181.4 430.4h0.8M186.5 398.4h0.8M186.7 396.6h0.8M176.4 415.7h0.8M180.3 397.0h0.8M172.0 396.9h0.8M167.7 414.5h0.8M179.3 436.6h0.8M173.1 399.8h0.8M172.2 398.7h0.8M178.0 433.0h0.8M175.9 418.8h0.8M178.7 417.4h0.8M178.1 392.2h0.8M176.1 421.3h0.8M172.8 417.1h0.8M180.0 437.7h0.8M176.9 419.8h0.8M168.8 412.3h0.8M174.7 418.4h0.8M172.1 397.7h0.8M180.6 417.0h0.8M178.8 400.9h0.8M183.8 388.5h0.8M178.1 427.4h0.8M184.5 383.6h0.8M187.1 395.1h0.8M180.8 404.8h0.8M172.8 409.8h0.8M171.8 398.0h0.8M177.1 435.0h0.8M179.0 401.4h0.8M165.4 407.8h0.8M182.0 423.7h0.8M179.7 403.9h0.8M185.5 386.0h0.8M172.1 425.0h0.8M184.9 414.0h0.8M180.1 438.1h0.8M172.9 421.1h0.8M187.3 394.3h0.8M183.0 389.8h0.8M169.6 404.7h0.8M179.1 406.8h0.8M179.8 413.0h0.8M180.7 416.3h0.8M182.3 424.7h0.8M184.0 397.2h0.8M174.3 427.7h0.8M173.8 427.6h0.8M174.9 409.1h0.8M172.3 416.1h0.8M178.7 432.9h0.8M171.7 417.9h0.8M184.7 384.2h0.8M183.4 388.7h0.8M179.1 417.1h0.8M179.5 438.6h0.8M177.8 394.9h0.8M180.7 441.9h0.8M171.6 408.8h0.8M172.0 420.4h0.8M184.0 393.8h0.8M178.2 407.9h0.8M169.1 403.7h0.8M174.2 403.0h0.8M188.3 405.7h0.8M182.7 419.4h0.8M172.9 415.5h0.8M181.1 421.4h0.8M179.0 433.7h0.8M171.8 402.1h0.8M181.6 395.2h0.8M171.0 404.3h0.8M182.5 425.8h0.8M187.4 390.3h0.8M178.5 431.4h0.8M185.2 411.0h0.8M177.6 422.1h0.8M187.6 385.0h0.8M181.6 399.6h0.8M180.3 413.0h0.8M186.7 385.9h0.8M177.6 424.9h0.8M185.2 433.8h0.8M175.1 397.1h0.8M186.2 401.3h0.8M178.8 390.9h0.8M175.5 420.4h0.8M173.9 426.8h0.8M178.9 401.9h0.8M186.5 390.2h0.8M180.6 427.8h0.8M174.7 420.2h0.8M182.3 391.9h0.8M183.1 402.0h0.8M179.8 437.1h0.8M174.1 401.8h0.8M172.0 429.4h0.8M171.8 421.8h0.8M181.1 424.1h0.8M175.3 422.0h0.8M170.1 396.3h0.8M165.3 411.3h0.8M184.9 390.3h0.8M184.2 389.5h0.8M175.1 417.0h0.8M172.9 408.6h0.8M178.4 432.3h0.8M183.8 404.4h0.8M183.5 432.2h0.8M183.5 398.2h0.8M176.3 410.8h0.8M182.2 431.0h0.8M177.3 438.4h0.8M182.5 439.9h0.8M177.3 395.8h0.8M185.8 427.8h0.8M185.5 428.2h0.8M178.9 424.1h0.8M182.0 388.0h0.8M163.7 409.5h0.8M183.5 423.5h0.8M178.4 435.9h0.8M184.6 414.6h0.8M178.5 396.8h0.8M176.5 398.4h0.8M171.2 398.4h0.8M178.2 430.0h0.8M180.7 440.3h0.8M180.3 442.2h0.8M182.8 404.6h0.8M185.2 405.8h0.8M183.9 433.7h0.8M180.7 423.4h0.8M178.1 412.2h0.8M187.4 385.1h0.8M178.3 394.5h0.8M183.0 423.5h0.8M174.1 418.9h0.8M180.5 435.1h0.8M180.8 411.5h0.8M167.8 414.6h0.8M184.2 399.5h0.8M184.2 421.8h0.8M178.5 400.9h0.8M179.0 434.0h0.8M165.4 408.3h0.8M168.0 401.1h0.8M180.8 435.0h0.8M176.0 427.2h0.8M176.0 413.2h0.8M176.8 431.0h0.8M183.2 387.6h0.8M176.6 395.1h0.8M186.8 398.5h0.8M182.6 389.5h0.8M170.7 423.2h0.8M184.9 434.6h0.8M182.4 429.7h0.8M184.3 425.4h0.8M185.2 408.0h0.8M179.9 437.3h0.8M173.1 428.8h0.8M179.1 431.2h0.8M175.9 436.4h0.8M180.0 420.3h0.8M177.3 428.6h0.8M177.5 391.5h0.8M183.7 429.9h0.8M180.2 431.4h0.8M181.0 433.5h0.8M181.3 414.5h0.8M172.7 422.3h0.8M178.6 420.9h0.8M179.3 401.2h0.8M182.1 424.9h0.8M167.7 415.0h0.8M180.1 393.3h0.8M187.0 398.3h0.8M183.5 418.5h0.8M185.5 402.2h0.8M173.0 428.0h0.8M181.1 428.3h0.8M181.2 421.0h0.8M173.7 401.1h0.8M174.0 420.5h0.8M176.8 404.3h0.8M186.6 394.0h0.8M177.7 411.8h0.8M179.7 435.5h0.8M181.8 435.0h0.8M168.9 401.0h0.8M178.1 433.7h0.8M170.9 411.9h0.8M180.0 396.1h0.8M183.9 389.4h0.8M178.9 421.0h0.8M173.5 426.8h0.8M182.2 413.6h0.8M180.0 439.1h0.8M177.6 429.1h0.8M180.6 422.6h0.8M187.4 419.5h0.8M184.6 393.4h0.8M176.2 393.3h0.8M184.1 431.3h0.8M177.3 401.9h0.8M180.0 412.1h0.8M167.7 404.8h0.8M183.9 405.5h0.8M184.6 391.1h0.8M175.6 393.4h0.8M185.4 408.5h0.8M173.4 417.5h0.8M182.5 430.4h0.8M187.2 414.8h0.8M173.8 414.4h0.8M170.9 400.0h0.8M181.6 387.2h0.8M166.0 413.0h0.8M168.2 401.3h0.8M173.8 426.9h0.8M175.0 401.1h0.8M177.2 394.7h0.8M181.6 395.5h0.8M182.6 391.7h0.8M181.4 411.3h0.8M185.9 386.7h0.8M182.7 433.4h0.8M187.3 388.1h0.8M169.8 398.4h0.8M170.7 420.7h0.8M171.8 426.1h0.8M174.5 403.6h0.8M180.5 416.3h0.8M174.6 410.3h0.8M186.4 387.1h0.8M180.5 440.6h0.8M166.9 410.0h0.8M179.5 410.7h0.8M166.1 411.4h0.8M185.9 394.6h0.8M180.8 388.7h0.8M182.1 424.4h0.8M177.0 414.9h0.8M179.7 441.9h0.8M179.8 414.9h0.8M166.2 407.5h0.8M181.8 410.0h0.8M188.7 391.6h0.8M181.0 415.1h0.8M180.8 398.6h0.8M185.2 394.7h0.8M184.6 410.8h0.8M172.9 411.9h0.8M188.9 391.4h0.8M186.2 394.2h0.8M182.8 405.0h0.8M177.8 412.1h0.8M172.0 418.3h0.8M183.3 439.2h0.8M181.0 390.5h0.8M178.8 395.8h0.8M168.9 406.9h0.8M172.3 423.6h0.8M178.7 416.3h0.8M173.4 399.2h0.8M184.8 415.1h0.8M172.5 416.1h0.8M182.3 391.9h0.8M175.1 424.2h0.8M178.3 429.2h0.8M184.1 428.3h0.8M180.4 434.5h0.8M187.9 412.0h0.8M181.8 438.6h0.8M180.4 425.9h0.8M171.8 408.5h0.8M184.3 403.1h0.8M166.2 408.6h0.8M184.6 411.0h0.8M181.0 438.3h0.8M179.2 400.0h0.8M169.6 406.7h0.8M171.1 408.2h0.8M180.2 410.2h0.8M179.5 390.4h0.8M184.4 425.1h0.8M174.4 416.9h0.8M173.7 404.8h0.8M177.9 393.0h0.8M173.0 422.8h0.8M186.3 384.8h0.8M174.7 417.5h0.8M175.4 415.9h0.8M177.8 430.2h0.8M173.5 400.3h0.8M182.2 400.3h0.8M184.3 401.7h0.8M183.1 421.2h0.8M174.8 434.6h0.8M176.2 391.7h0.8M173.6 415.2h0.8M182.0 420.5h0.8M182.4 419.5h0.8M179.9 421.7h0.8M180.6 396.8h0.8M172.1 398.5h0.8M181.9 438.6h0.8M175.5 428.2h0.8M174.0 412.5h0.8M177.0 391.6h0.8M179.4 398.7h0.8M172.5 425.9h0.8M181.6 441.0h0.8M173.5 412.5h0.8M174.3 398.9h0.8M182.2 439.0h0.8M179.3 398.1h0.8M179.7 405.1h0.8M187.2 384.1h0.8M170.4 410.9h0.8M180.6 441.2h0.8M178.9 402.2h0.8M173.9 413.0h0.8M185.5 412.6h0.8M185.6 410.6h0.8M184.8 401.7h0.8M180.1 431.0h0.8M185.7 424.7h0.8M177.1 426.0h0.8M181.5 435.1h0.8M183.8 397.5h0.8M187.0 388.3h0.8M178.9 410.7h0.8M182.3 391.3h0.8M174.0 419.0h0.8M179.2 391.1h0.8M177.7 422.6h0.8M184.9 431.1h0.8M180.1 438.3h0.8M181.3 417.9h0.8M178.4 422.0h0.8M184.7 408.0h0.8M180.9 436.6h0.8M166.4 404.9h0.8M181.4 426.5h0.8M166.3 416.7h0.8M185.7 398.5h0.8M176.2 401.4h0.8M176.2 431.9h0.8M177.6 398.8h0.8M168.0 412.8h0.8M187.1 393.5h0.8M184.1 421.2h0.8M178.6 435.6h0.8M183.2 389.4h0.8M182.4 416.1h0.8M167.4 408.4h0.8M183.8 401.0h0.8M171.3 404.2h0.8M183.7 400.4h0.8M179.7 440.1h0.8M169.9 410.2h0.8M181.4 391.2h0.8M181.5 394.5h0.8" stroke="#111" stroke-width="0.8" fill="none"/>
<rect x="164.2" y="382.9" width="26.6" height="62.6" fill="none" stroke="#8a8a8a" stroke-width="0.8"/>
<path d="M213.0 398.3 L213.3 399.1 L213.7 400.2 L213.4 401.2 L213.0 402.1 L213.3 402.8 L212.9 402.1 L212.9 404.0 L212.4 403.5 L210.7 404.5 L210.3 405.1 L209.9 405.2 L209.7 406.1 L209.3 406.5 L207.7 407.0 L207.9 407.6 L206.3 407.5 L205.1 407.7 L205.3 408.4 L204.2 408.8 L203.0 408.9 L202.9 407.5 L202.9 407.3 L202.9 407.5 L202.1 406.5 L201.1 407.0 L201.7 405.5 L201.2 405.5 L201.2 405.6 L201.7 404.1 L201.9 403.1 L202.5 403.3 L202.2 402.4 L203.5 401.3 L204.1 401.1 L204.2 399.9 L204.6 400.5 L205.4 399.5 L206.4 399.5 L206.7 398.8 L208.6 397.8 L208.8 398.5 L209.5 398.0 L210.3 397.3 L210.3 397.7 L211.5 397.7 L212.5 398.6 L212.9 397.6Z M212.1 399.5 L212.3 400.1 L212.3 401.1 L211.5 402.1 L210.9 403.0 L210.0 403.6 L209.2 404.1 L208.6 404.3 L207.2 404.3 L206.7 404.5 L206.3 403.7 L206.0 403.3 L206.2 402.0 L206.3 401.5 L206.6 400.5 L207.5 399.7 L208.6 399.6 L209.7 398.6 L210.8 398.8 L211.6 398.9Z" fill="#1e1e1e" fill-rule="evenodd"/>
<path d="M212.5 398.7 L212.9 400.3 L213.2 399.7 L212.6 400.2 L213.2 402.2 L212.7 401.3 L212.1 402.4 L212.0 404.5 L211.7 403.2 L211.2 404.9 L209.7 405.9 L209.1 405.5 L208.7 406.2 L208.3 406.7 L207.3 408.1 L206.7 406.8 L205.4 407.2 L205.5 407.4 L205.0 407.4 L203.6 407.9 L202.4 408.3 L203.0 407.1 L202.3 406.5 L202.1 407.0 L201.9 405.4 L201.4 405.6 L202.5 405.5 L201.4 405.4 L201.3 403.8 L201.8 404.0 L201.8 403.0 L202.9 403.4 L203.4 402.0 L204.0 401.4 L204.4 401.2 L204.7 399.8 L206.5 399.3 L207.1 398.7 L207.0 398.3 L207.7 397.8 L208.8 398.0 L210.5 397.9 L209.9 398.3 L210.8 399.3 L212.1 399.2 L212.5 398.8Z M213.4 398.5 L213.5 399.0 L213.0 400.1 L212.9 401.4 L213.5 402.1 L212.5 402.2 L212.3 403.0 L212.9 403.4 L211.4 404.4 L211.3 404.7 L211.2 405.1 L210.7 406.2 L208.4 406.8 L208.6 407.5 L207.2 407.5 L206.3 407.5 L206.1 408.9 L204.5 408.6 L203.9 407.7 L203.9 408.5 L203.6 408.7 L202.5 408.5 L201.7 408.0 L201.5 408.0 L202.1 405.8 L200.4 406.1 L201.5 406.1 L201.8 405.1 L200.8 404.9 L200.7 403.1 L202.1 402.5 L203.2 401.5 L202.9 401.5 L203.3 401.2 L205.6 400.3 L205.3 398.9 L205.6 399.1 L205.9 398.7 L208.2 397.8 L208.1 397.5 L210.3 398.0 L209.8 397.6 L211.7 397.7 L211.3 398.4 L211.5 397.8 L213.1 397.7Z M214.0 399.3 L213.8 399.8 L214.0 400.8 L214.2 400.7 L214.5 401.5 L212.3 402.2 L211.9 402.9 L213.0 403.6 L211.3 404.5 L211.9 404.9 L212.0 406.0 L210.8 406.1 L208.7 406.9 L208.4 407.4 L207.5 408.9 L206.5 409.2 L205.1 408.7 L204.6 409.9 L203.6 408.7 L202.6 409.1 L202.1 408.6 L201.7 408.1 L201.4 408.2 L201.1 407.9 L201.3 405.9 L201.2 405.7 L200.4 405.9 L201.5 404.9 L200.3 403.9 L200.9 403.3 L201.0 403.5 L202.3 402.2 L203.4 401.0 L203.6 401.0 L204.0 399.6 L204.6 400.2 L205.4 399.5 L207.0 399.0 L207.8 397.0 L208.6 397.6 L210.1 397.9 L209.8 397.0 L211.0 396.9 L212.8 397.9 L212.7 396.9 L214.1 397.9Z M214.8 398.3 L213.8 399.0 L213.2 399.5 L213.9 400.0 L214.8 401.6 L213.5 402.3 L212.5 402.9 L212.6 403.2 L212.9 403.4 L212.0 405.0 L212.5 406.3 L211.6 407.0 L208.8 407.4 L208.3 407.7 L208.1 408.0 L206.8 408.3 L206.2 408.1 L204.3 409.3 L203.8 408.7 L203.4 409.8 L202.5 408.3 L201.0 408.5 L201.9 407.8 L200.1 407.8 L200.1 407.8 L200.4 407.0 L199.9 406.2 L199.2 404.9 L201.1 404.6 L200.4 404.1 L201.2 401.9 L202.3 401.6 L202.2 401.6 L203.8 400.1 L204.5 399.0 L205.0 398.4 L206.8 398.6 L206.7 398.4 L207.0 396.8 L208.4 397.5 L209.3 397.1 L210.4 396.1 L211.5 396.4 L212.6 396.2 L213.6 397.7 L214.1 396.8Z M213.5 397.8 L214.8 398.6 L214.8 399.3 L214.4 401.1 L214.5 400.7 L214.5 401.4 L213.1 402.7 L213.2 404.4 L212.2 404.5 L213.2 405.6 L211.0 406.6 L211.7 407.1 L209.7 407.8 L209.1 407.5 L207.9 408.7 L206.9 409.6 L205.7 409.1 L204.6 408.9 L204.1 408.5 L203.0 408.7 L202.3 409.9 L201.5 409.1 L200.1 408.9 L199.8 408.4 L199.7 406.7 L199.9 407.7 L200.0 405.4 L200.2 405.6 L200.2 404.1 L199.8 404.2 L200.9 402.7 L201.9 401.4 L202.8 401.8 L203.8 400.6 L203.4 399.7 L205.0 399.3 L205.3 397.5 L207.0 396.4 L207.1 396.7 L208.7 396.4 L210.0 396.7 L211.1 395.4 L212.9 396.5 L212.4 397.5 L213.3 396.8 L215.0 397.8Z M214.7 397.1 L215.2 398.7 L215.1 398.8 L215.8 399.8 L215.4 400.0 L215.6 402.2 L214.9 402.5 L213.8 404.6 L213.5 404.3 L211.9 405.1 L212.2 406.4 L209.5 406.8 L209.3 407.7 L208.8 407.8 L208.3 409.4 L206.5 410.0 L205.3 410.6 L205.2 409.9 L203.2 410.7 L203.1 410.4 L202.3 410.2 L200.0 409.9 L199.9 409.3 L199.4 408.2 L200.3 408.1 L200.3 407.2 L199.1 405.7 L199.9 405.5 L200.0 404.1 L200.3 404.1 L199.6 402.4 L200.5 402.0 L202.3 401.0 L201.9 399.9 L203.1 399.4 L204.6 397.4 L206.1 398.0 L206.4 397.8 L207.9 395.9 L208.7 395.6 L210.3 395.3 L210.4 395.4 L212.0 396.9 L212.9 395.4 L213.5 396.5 L214.3 397.5Z M216.0 396.7 L216.0 397.4 L216.6 398.9 L216.0 400.6 L215.2 400.2 L214.8 401.0 L215.3 402.8 L214.5 403.5 L214.0 405.3 L213.5 405.5 L211.5 407.4 L211.5 406.8 L209.5 407.6 L208.8 409.6 L207.9 409.6 L207.4 410.4 L206.1 410.4 L204.3 411.1 L203.9 410.3 L202.4 409.0 L201.3 410.3 L200.6 410.1 L199.3 408.8 L199.7 407.6 L198.6 408.2 L198.6 406.6 L197.8 406.5 L199.1 406.2 L198.9 403.5 L198.9 404.2 L199.3 403.0 L200.3 401.5 L202.2 400.4 L202.6 399.2 L204.4 399.0 L203.9 398.8 L205.9 397.3 L206.9 396.1 L208.3 396.2 L209.5 395.4 L210.0 395.9 L211.9 394.3 L213.1 395.2 L214.3 394.5 L214.7 396.1 L214.4 396.0Z M216.5 396.3 L216.3 398.4 L216.7 399.6 L216.8 398.9 L215.5 400.5 L216.1 401.0 L215.7 403.0 L214.1 403.8 L213.7 404.9 L213.4 405.0 L212.3 405.9 L210.9 407.1 L209.2 407.9 L209.6 409.2 L207.0 409.5 L206.1 409.8 L205.7 411.3 L203.2 411.5 L203.2 410.5 L201.2 411.2 L201.4 410.7 L199.9 409.4 L200.0 409.6 L199.1 408.8 L198.2 408.4 L198.5 408.3 L198.7 406.0 L198.6 405.2 L198.7 404.3 L199.5 403.6 L199.8 403.4 L200.8 402.4 L200.7 400.0 L201.8 398.9 L203.3 397.8 L203.8 397.1 L205.0 396.2 L205.8 396.2 L208.5 396.0 L208.7 396.2 L209.9 395.3 L211.1 395.7 L212.0 395.2 L214.5 394.8 L215.3 394.8 L216.2 396.3Z M217.0 396.3 L216.0 397.9 L216.4 398.7 L216.5 400.3 L216.1 399.9 L215.9 402.5 L216.8 402.8 L215.4 404.6 L214.4 405.6 L212.8 406.0 L213.2 406.6 L210.9 407.9 L210.5 408.3 L208.5 409.7 L208.1 410.3 L206.6 410.1 L204.8 411.5 L204.0 411.5 L202.7 411.9 L202.2 411.4 L201.3 411.1 L201.4 410.1 L199.9 410.1 L198.2 410.0 L197.4 408.5 L197.4 408.3 L198.2 407.3 L198.1 405.5 L197.8 404.5 L198.7 403.1 L199.1 401.8 L199.5 401.8 L201.1 400.2 L202.0 398.5 L203.1 397.6 L204.0 397.7 L205.1 396.8 L207.1 395.8 L207.6 395.4 L209.6 394.3 L210.1 395.0 L211.6 395.1 L213.1 394.0 L214.9 394.1 L214.8 394.4 L217.3 395.8Z" fill="none" stroke="#151515" stroke-width="0.55"/>
<path d="M203.3 411.4a0.6 0.6 0 1 0 1.3 0a0.6 0.6 0 1 0 -1.3 0 M196.6 408.8a0.5 0.5 0 1 0 1.1 0a0.5 0.5 0 1 0 -1.1 0 M212.7 394.2a0.5 0.5 0 1 0 1.0 0a0.5 0.5 0 1 0 -1.0 0 M203.1 411.9a0.8 0.8 0 1 0 1.5 0a0.8 0.8 0 1 0 -1.5 0 M201.2 398.8a0.9 0.9 0 1 0 1.9 0a0.9 0.9 0 1 0 -1.9 0 M201.6 398.0a0.7 0.7 0 1 0 1.3 0a0.7 0.7 0 1 0 -1.3 0 M201.5 411.7a0.9 0.9 0 1 0 1.9 0a0.9 0.9 0 1 0 -1.9 0 M211.5 393.7a0.9 0.9 0 1 0 1.8 0a0.9 0.9 0 1 0 -1.8 0 M199.0 401.5a0.7 0.7 0 1 0 1.5 0a0.7 0.7 0 1 0 -1.5 0 M197.9 411.1a0.7 0.7 0 1 0 1.3 0a0.7 0.7 0 1 0 -1.3 0 M208.4 394.2a0.9 0.9 0 1 0 1.8 0a0.9 0.9 0 1 0 -1.8 0 M215.6 401.9a0.9 0.9 0 1 0 1.7 0a0.9 0.9 0 1 0 -1.7 0 M206.5 395.0a0.7 0.7 0 1 0 1.4 0a0.7 0.7 0 1 0 -1.4 0 M210.8 408.6a0.9 0.9 0 1 0 1.8 0a0.9 0.9 0 1 0 -1.8 0 M211.2 407.5a0.7 0.7 0 1 0 1.5 0a0.7 0.7 0 1 0 -1.5 0 M215.6 401.0a0.9 0.9 0 1 0 1.8 0a0.9 0.9 0 1 0 -1.8 0" fill="none" stroke="#222" stroke-width="0.5"/>
<path d="M194.1 409.0h0.7M192.4 405.5h0.7M196.9 408.7h0.7M192.4 406.0h0.7M195.1 407.0h0.7M195.0 408.3h0.7M195.9 407.0h0.7M194.1 405.1h0.7M195.1 408.2h0.7M193.3 404.9h0.7M195.7 404.8h0.7M196.1 406.3h0.7M193.2 405.9h0.7M196.5 407.8h0.7M196.0 406.3h0.7M193.5 405.7h0.7M194.5 428.0h0.7M191.5 408.0h0.7M192.5 407.6h0.7" stroke="#111" stroke-width="0.7" fill="none"/>
<path d="M347.5 325.8h0.8M348.6 327.2h0.8M350.0 326.5h0.8M346.5 328.6h0.8M347.2 323.8h0.8" stroke="#444" stroke-width="0.8" fill="none"/>
<path d="M448.3 317.4 L448.3 317.8 L447.9 317.5 L448.3 317.8 L449.2 318.5 L449.0 319.6 L448.2 320.1 L447.1 321.8 L446.7 322.3 L447.1 323.0 L446.8 323.9 L445.6 324.9 L444.7 324.4 L443.4 324.4 L443.0 325.0 L443.0 325.7 L443.0 324.8 L440.9 325.0 L440.4 324.8 L441.5 324.4 L440.8 323.8 L440.4 322.0 L440.8 322.5 L440.7 321.7 L440.3 320.2 L442.3 318.5 L443.3 318.6 L444.3 318.3 L444.5 316.9 L445.0 318.3 L446.3 317.0 L446.7 316.0 L446.8 316.4 L448.0 316.9Z M448.1 317.0 L449.0 317.6 L448.8 317.6 L449.7 317.1 L449.9 318.2 L449.2 320.5 L449.2 320.3 L447.9 320.9 L447.0 322.7 L447.1 324.1 L446.8 323.7 L444.6 324.6 L444.1 325.8 L444.7 325.5 L443.1 326.7 L441.1 325.9 L441.5 327.0 L440.8 325.9 L440.2 324.6 L439.7 324.9 L440.4 324.2 L440.1 322.8 L439.3 322.2 L440.6 321.5 L440.3 320.3 L441.4 319.0 L442.9 318.6 L442.2 317.0 L443.2 316.2 L444.3 315.4 L445.1 315.1 L446.9 315.6 L447.4 315.8 L448.4 315.5Z M448.9 314.5 L450.5 315.5 L449.1 316.3 L449.7 317.5 L450.1 318.8 L448.4 319.3 L450.1 320.6 L448.8 322.0 L448.0 322.0 L446.9 324.0 L445.9 325.1 L446.1 325.2 L443.9 327.1 L442.4 327.0 L441.9 326.7 L441.6 326.6 L441.8 326.7 L439.8 326.0 L439.6 325.5 L439.7 324.1 L439.4 324.1 L439.2 323.9 L440.0 322.5 L440.9 321.2 L440.7 320.8 L440.6 318.8 L441.5 318.4 L443.0 317.6 L443.3 316.3 L444.8 316.6 L446.0 315.6 L446.8 315.9 L448.1 315.2 L449.1 314.8Z M448.8 314.9 L450.5 315.2 L449.9 315.7 L450.1 317.0 L449.5 318.1 L449.7 319.2 L450.2 320.5 L449.6 321.9 L448.7 323.1 L447.5 323.6 L446.4 324.1 L445.5 324.9 L443.4 326.7 L443.4 327.1 L442.6 328.2 L441.8 327.5 L440.7 327.1 L439.9 326.8 L439.0 327.6 L439.0 325.8 L437.5 325.3 L438.0 324.5 L438.9 322.3 L440.1 320.3 L440.9 319.8 L441.0 318.6 L441.8 317.2 L442.1 317.1 L444.7 315.1 L445.1 315.7 L445.0 314.4 L447.3 313.9 L448.6 314.1 L448.4 313.9Z M449.8 313.8 L450.6 314.8 L451.9 315.0 L451.3 317.4 L451.9 317.5 L450.8 319.1 L450.5 320.2 L449.1 320.8 L449.5 322.6 L448.0 324.0 L447.1 324.9 L445.7 326.9 L445.0 328.3 L442.9 327.4 L442.3 329.1 L441.6 327.4 L440.6 328.5 L438.4 327.2 L438.8 326.6 L437.4 325.7 L437.8 324.6 L437.8 323.9 L437.4 322.4 L438.4 320.8 L438.6 319.3 L441.1 318.5 L441.7 316.4 L442.3 315.6 L442.9 315.2 L445.0 314.0 L445.8 314.5 L447.1 313.1 L447.9 312.5 L449.9 313.6Z M450.5 312.7 L451.6 314.9 L451.8 315.5 L452.4 316.4 L452.5 317.0 L450.8 319.2 L450.3 320.2 L450.6 321.6 L449.7 323.6 L447.7 324.1 L446.7 325.4 L445.9 327.1 L444.4 329.3 L443.1 328.7 L442.0 329.8 L440.9 329.0 L440.9 328.0 L439.0 327.0 L438.2 327.0 L437.8 326.5 L437.1 325.8 L437.0 323.7 L436.5 322.8 L437.9 321.5 L438.8 319.8 L439.9 317.3 L440.7 317.1 L442.7 316.7 L443.1 315.3 L444.3 314.3 L445.9 313.8 L448.0 313.1 L448.3 312.0 L449.9 312.2Z M451.7 311.9 L451.7 312.5 L451.4 314.1 L450.9 316.6 L451.5 316.7 L452.2 319.3 L450.9 320.0 L451.9 322.1 L449.5 323.3 L449.5 325.5 L447.3 326.4 L446.5 327.3 L444.4 329.0 L443.4 329.3 L441.0 329.9 L440.0 329.4 L439.6 329.0 L437.6 328.9 L437.2 327.4 L436.2 328.3 L435.5 327.0 L435.7 323.9 L436.4 322.4 L438.0 322.0 L439.7 320.1 L439.1 318.3 L441.0 317.5 L441.9 315.8 L443.1 313.1 L446.0 312.7 L447.0 311.6 L447.2 312.2 L449.2 311.8 L451.2 311.7Z" fill="none" stroke="#1a1a1a" stroke-width="0.6"/>
<path d="M450.1 314.6 L450.0 315.9 L449.6 315.6 L449.8 316.7 L450.8 316.5 L450.2 317.0 L449.9 316.3 L448.2 316.5 L447.6 317.5 L446.9 317.5 L447.1 317.1 L446.6 317.0 L445.3 317.3 L445.3 317.7 L445.0 317.6 L444.2 316.8 L444.3 317.5 L443.8 316.4 L443.5 316.9 L443.8 316.7 L444.0 315.9 L445.5 315.8 L444.9 315.8 L446.3 315.0 L446.5 314.7 L446.9 315.0 L447.0 314.5 L448.5 314.3 L448.3 314.4 L449.6 314.1 L449.2 315.2 L450.4 314.1 L450.7 315.4 L450.0 314.8Z M451.5 314.5 L450.8 315.0 L451.6 316.0 L451.7 316.2 L451.2 316.6 L450.9 317.1 L450.0 316.9 L449.0 316.8 L448.0 318.1 L447.7 317.2 L446.9 318.5 L446.2 318.1 L445.5 318.4 L445.0 317.3 L444.5 317.6 L444.1 317.2 L442.8 317.5 L442.4 317.5 L443.2 316.1 L444.2 316.4 L443.3 315.5 L444.0 316.0 L444.5 315.0 L445.8 315.4 L446.4 315.1 L447.3 314.5 L447.6 313.8 L447.8 314.2 L449.4 313.5 L449.5 313.9 L450.2 313.4 L451.0 314.3 L450.7 315.2 L451.7 314.5Z M453.0 314.1 L452.8 315.0 L453.1 315.6 L452.7 315.8 L451.2 316.6 L451.4 316.7 L450.0 317.4 L449.7 316.9 L448.6 318.2 L447.2 319.0 L446.3 318.6 L445.7 318.0 L444.2 318.0 L444.0 319.1 L443.4 318.0 L442.8 317.7 L442.5 317.6 L443.1 316.7 L443.5 317.2 L443.3 316.6 L442.9 315.4 L443.7 315.0 L443.9 315.5 L445.2 315.0 L445.6 313.6 L446.5 314.3 L447.0 313.5 L448.5 314.1 L449.0 314.3 L450.5 313.8 L451.1 313.8 L451.3 313.7 L452.3 313.7 L453.0 313.8Z M453.5 314.9 L453.3 314.7 L453.9 314.8 L454.0 316.1 L452.4 316.8 L451.2 316.7 L451.2 317.0 L449.3 318.3 L449.4 318.2 L447.8 318.2 L445.7 318.4 L444.6 318.5 L444.1 319.5 L443.1 318.1 L442.1 318.7 L442.3 318.4 L441.2 317.8 L440.8 317.6 L440.4 318.0 L441.4 317.2 L442.6 316.5 L442.0 315.1 L443.9 315.5 L443.7 315.2 L444.9 314.2 L446.8 313.7 L447.2 312.8 L449.0 313.2 L449.3 312.4 L450.8 312.3 L452.6 312.1 L452.3 313.6 L453.7 313.3 L452.6 313.9Z" fill="none" stroke="#1a1a1a" stroke-width="0.6"/>
<path d="M440.6 319.3h0.8M448.1 312.1h0.8M447.2 323.1h0.8M449.7 321.5h0.8M447.0 319.8h0.8M448.8 316.1h0.8M444.2 319.7h0.8M446.1 316.6h0.8M449.9 322.7h0.8M436.8 325.6h0.8M448.2 312.9h0.8M445.0 317.5h0.8M451.4 317.6h0.8M442.0 325.4h0.8M448.5 313.9h0.8M448.1 323.5h0.8M448.4 319.0h0.8M440.4 326.6h0.8M447.1 326.1h0.8M446.4 319.1h0.8M437.2 324.5h0.8M438.3 325.6h0.8M443.8 324.7h0.8M447.9 313.3h0.8M445.8 315.0h0.8M445.9 325.9h0.8M453.1 314.3h0.8M440.5 315.5h0.8M444.8 327.1h0.8M448.2 316.7h0.8M443.9 318.9h0.8M445.5 323.1h0.8M451.7 313.9h0.8M440.3 322.6h0.8M440.9 316.6h0.8M449.5 320.6h0.8M440.8 325.0h0.8M444.5 311.7h0.8M439.0 328.2h0.8M444.7 316.8h0.8M450.0 327.2h0.8M442.7 327.1h0.8M442.0 313.2h0.8M439.6 315.8h0.8M442.2 318.7h0.8M449.5 313.3h0.8M449.6 322.6h0.8M444.8 317.5h0.8M439.6 329.2h0.8M449.7 323.9h0.8M449.3 313.4h0.8M442.9 325.7h0.8M452.1 320.1h0.8M437.7 326.1h0.8M450.1 318.2h0.8M438.7 319.2h0.8M452.2 317.7h0.8M442.9 323.4h0.8M441.3 327.6h0.8M447.6 325.7h0.8M445.0 314.9h0.8M443.8 319.3h0.8M439.7 321.9h0.8M439.0 320.3h0.8M439.7 317.7h0.8M438.1 320.0h0.8M450.1 314.0h0.8M448.5 318.5h0.8M454.0 314.8h0.8M447.6 313.9h0.8M448.6 313.0h0.8M439.7 326.1h0.8M447.0 313.7h0.8M446.6 321.4h0.8M450.4 315.5h0.8M438.9 325.2h0.8M441.5 323.6h0.8M446.9 315.1h0.8M436.7 330.1h0.8M440.5 323.7h0.8M438.7 330.3h0.8M453.2 313.1h0.8M450.6 314.5h0.8M447.5 323.3h0.8M445.2 314.6h0.8M440.7 323.4h0.8M438.0 329.3h0.8M448.1 317.5h0.8M439.2 322.4h0.8M443.4 326.2h0.8M448.1 322.9h0.8M449.9 323.1h0.8M439.8 319.9h0.8M448.4 320.9h0.8M451.3 319.7h0.8M451.7 309.5h0.8M440.2 323.3h0.8M442.1 321.2h0.8M448.5 313.1h0.8M440.9 328.6h0.8M443.3 318.1h0.8M446.0 324.3h0.8M442.1 327.1h0.8M446.5 316.8h0.8M443.6 323.3h0.8M443.1 311.4h0.8M445.9 318.0h0.8M439.9 328.6h0.8M449.9 318.0h0.8M437.9 325.4h0.8M445.0 316.1h0.8M440.2 323.9h0.8M440.8 322.9h0.8M453.6 314.8h0.8M444.8 321.4h0.8M440.1 326.3h0.8M439.1 326.6h0.8M442.7 326.0h0.8M442.2 331.3h0.8M437.2 329.1h0.8M442.7 324.6h0.8M437.3 327.8h0.8M442.1 320.0h0.8M441.8 327.9h0.8M437.8 333.0h0.8M444.9 317.3h0.8M438.0 325.1h0.8M443.6 318.9h0.8M438.7 317.2h0.8M435.5 333.8h0.8M440.7 322.8h0.8M440.5 323.9h0.8M440.9 325.5h0.8M451.5 324.0h0.8M451.1 319.7h0.8M441.6 322.9h0.8M444.8 329.8h0.8M441.2 320.0h0.8M437.8 324.8h0.8M437.1 326.5h0.8M438.6 321.4h0.8M436.0 324.7h0.8M437.6 323.3h0.8M444.3 313.1h0.8M441.0 326.5h0.8M449.5 311.8h0.8M436.2 328.6h0.8M441.2 319.1h0.8M447.1 319.5h0.8M443.3 319.5h0.8M438.5 324.8h0.8M437.8 314.9h0.8M450.8 325.6h0.8M444.9 330.3h0.8M452.6 317.7h0.8M451.4 326.6h0.8M436.1 321.6h0.8M450.5 332.4h0.8M450.5 331.6h0.8M444.3 320.0h0.8M454.6 331.6h0.8M445.8 324.8h0.8M452.1 324.4h0.8M451.5 328.5h0.8M442.6 334.3h0.8M453.7 315.5h0.8M449.4 331.5h0.8M442.3 332.9h0.8M441.6 321.0h0.8M447.6 316.3h0.8M455.9 315.5h0.8M445.5 321.2h0.8M445.2 316.0h0.8M445.1 331.1h0.8M454.0 322.7h0.8M450.6 320.9h0.8M446.3 333.7h0.8M440.3 318.9h0.8M440.4 329.8h0.8M454.5 311.2h0.8M454.3 328.2h0.8M444.3 313.3h0.8M436.7 334.9h0.8M445.8 312.1h0.8M437.9 314.8h0.8M438.0 315.1h0.8M449.0 313.0h0.8M454.4 322.7h0.8M455.0 314.7h0.8M450.1 325.6h0.8M448.2 323.0h0.8M445.2 311.3h0.8M450.4 315.9h0.8M444.3 323.0h0.8M440.9 325.4h0.8M441.2 334.5h0.8M442.2 330.9h0.8M437.0 323.6h0.8M437.2 329.5h0.8M451.1 330.2h0.8M446.5 311.8h0.8M447.4 331.6h0.8M455.7 327.7h0.8M445.1 313.8h0.8M443.5 316.9h0.8M442.3 312.5h0.8M444.9 320.6h0.8M440.2 330.4h0.8M452.1 335.1h0.8M449.5 327.8h0.8M437.6 326.9h0.8M452.0 332.2h0.8M448.6 314.3h0.8M436.2 330.1h0.8M455.0 312.1h0.8M441.1 331.4h0.8M443.2 324.3h0.8M442.4 321.8h0.8M452.9 311.3h0.8M440.6 322.7h0.8M450.7 312.8h0.8M452.8 317.2h0.8M452.1 319.2h0.8M451.2 317.7h0.8M452.4 315.4h0.8M452.4 315.4h0.8M453.0 316.7h0.8M456.5 317.2h0.8M451.5 318.7h0.8M446.3 317.8h0.8M452.9 314.8h0.8M452.9 311.7h0.8M451.2 313.6h0.8M451.6 314.8h0.8M448.9 316.4h0.8M448.0 318.6h0.8M452.2 315.1h0.8M451.9 315.2h0.8M452.1 317.8h0.8M455.3 314.0h0.8M451.3 315.3h0.8M451.4 317.0h0.8M452.8 315.6h0.8M452.3 318.6h0.8M453.6 317.1h0.8M454.0 313.7h0.8M450.3 319.0h0.8M448.1 313.5h0.8M450.2 321.2h0.8M454.1 316.0h0.8M450.9 317.2h0.8M449.2 317.1h0.8M454.1 317.4h0.8M450.8 310.7h0.8M451.1 314.3h0.8M451.7 314.9h0.8M447.2 317.9h0.8M452.1 317.1h0.8M450.9 318.3h0.8M448.3 315.1h0.8" stroke="#111" stroke-width="0.8" fill="none"/>
<path d="M472.6 316.7h0.9M469.7 326.4h0.9M475.6 319.2h0.9M467.9 319.6h0.9M467.6 318.9h0.9M470.9 318.3h0.9M478.5 317.0h0.9M474.7 313.1h0.9M466.1 317.9h0.9M472.4 314.2h0.9M473.5 314.5h0.9M468.3 319.5h0.9M471.0 319.7h0.9M468.5 320.4h0.9M469.6 316.0h0.9M482.5 312.7h0.9M474.8 315.0h0.9M468.9 321.7h0.9M465.2 321.3h0.9M464.7 313.3h0.9M469.8 317.9h0.9M464.2 317.7h0.9M474.0 311.4h0.9M473.8 322.4h0.9M465.2 315.4h0.9M473.6 318.7h0.9M467.9 318.0h0.9M476.7 314.3h0.9M472.2 314.3h0.9M467.4 313.5h0.9M470.0 321.0h0.9M468.1 323.8h0.9M467.9 313.7h0.9M470.7 321.0h0.9M470.7 315.0h0.9M475.3 321.0h0.9M480.5 313.6h0.9M471.9 320.1h0.9M475.1 318.6h0.9M460.0 321.7h0.9M475.5 323.7h0.9M475.3 311.6h0.9M475.0 317.2h0.9M470.4 306.5h0.9M465.7 328.0h0.9M470.5 314.3h0.9M468.0 320.6h0.9M466.4 320.9h0.9M469.4 318.4h0.9M470.0 319.0h0.9M468.0 321.4h0.9M477.8 318.0h0.9M473.7 317.0h0.9M470.5 317.4h0.9M473.6 320.2h0.9M471.7 317.8h0.9M469.1 321.0h0.9M469.0 312.5h0.9M467.6 320.4h0.9M469.4 319.0h0.9M471.0 321.1h0.9M474.2 312.7h0.9M471.8 314.3h0.9M471.7 317.7h0.9M472.3 319.7h0.9M470.6 323.7h0.9M472.7 317.7h0.9M472.2 315.4h0.9M472.0 314.3h0.9M470.0 319.0h0.9M472.6 321.4h0.9M472.5 314.0h0.9M471.2 321.2h0.9M471.8 318.6h0.9M471.1 312.3h0.9M472.4 319.6h0.9M472.0 312.5h0.9M470.5 313.8h0.9M470.9 319.8h0.9M469.2 321.8h0.9M471.7 321.6h0.9M471.3 322.6h0.9M463.0 321.6h0.9M462.8 316.8h0.9M459.4 318.0h0.9M464.3 320.5h0.9M464.6 312.4h0.9M459.9 319.7h0.9M464.1 318.7h0.9M460.5 319.7h0.9M460.8 321.3h0.9M463.2 316.1h0.9" stroke="#262626" stroke-width="0.9" fill="none"/>
<path d="M449.0 348.0h0.6M448.0 347.0h0.6" stroke="#888" stroke-width="0.6" fill="none"/>
<rect x="433.3" y="307.6" width="24.4" height="30" fill="none" stroke="#2a2a2a" stroke-width="1"/>
<path d="M370.4 417.1h0.9M370.0 418.0h0.9M371.3 418.5h0.9M374.5 417.3h0.9M368.9 418.2h0.9M372.5 419.0h0.9M362.3 417.8h0.9M357.8 420.2h0.9M373.8 418.1h0.9M373.7 420.0h0.9M367.5 417.5h0.9M371.9 416.1h0.9M374.4 418.3h0.9M375.6 420.3h0.9M364.2 416.6h0.9M371.7 418.7h0.9M375.4 418.7h0.9M366.8 415.9h0.9M365.4 417.7h0.9M378.4 419.6h0.9M364.8 416.3h0.9M369.5 420.2h0.9M375.8 417.7h0.9M370.3 416.1h0.9M371.4 418.0h0.9M363.7 419.6h0.9M369.8 417.1h0.9M370.4 417.2h0.9M371.8 415.9h0.9M368.0 418.7h0.9M370.1 421.1h0.9M377.4 419.2h0.9M364.1 416.3h0.9M363.9 419.0h0.9M374.6 419.2h0.9M370.7 418.3h0.9M376.2 417.8h0.9M369.2 418.2h0.9M367.8 417.6h0.9M362.8 420.4h0.9M370.1 415.8h0.9M367.9 415.6h0.9M376.4 418.0h0.9M368.9 416.3h0.9M380.7 419.0h0.9M367.7 418.9h0.9M372.3 419.3h0.9M370.2 419.8h0.9M367.9 418.8h0.9M368.5 415.0h0.9M380.0 419.7h0.9M367.6 418.6h0.9M363.6 417.0h0.9M371.4 419.1h0.9M367.9 417.3h0.9M370.6 420.2h0.9M376.2 419.2h0.9M373.9 418.5h0.9M370.4 417.6h0.9M369.5 418.1h0.9M376.5 418.4h0.9M371.0 420.6h0.9M368.9 417.6h0.9M371.2 420.3h0.9M371.8 418.8h0.9M367.8 418.9h0.9M372.4 417.8h0.9M368.6 418.4h0.9M373.6 418.7h0.9M373.1 421.3h0.9M372.1 417.3h0.9M374.0 419.3h0.9M373.8 417.1h0.9M374.6 418.4h0.9M369.6 418.2h0.9M352.5 428.8h0.9M358.0 430.5h0.9M366.0 425.0h0.9M343.0 453.0h0.9M344.5 456.0h0.9M346.0 452.5h0.9M347.5 449.0h0.9M342.5 459.0h0.9M345.0 461.0h0.9M348.0 455.0h0.9M349.0 449.5h0.9" stroke="#1c1c1c" stroke-width="0.9" fill="none"/>
<path d="M462.4 433.3h0.9M456.4 444.4h0.9M471.9 427.5h0.9M465.9 424.7h0.9M461.5 436.5h0.9M464.6 433.3h0.9M467.5 427.3h0.9M468.6 424.6h0.9M466.3 430.4h0.9M466.9 435.4h0.9M459.0 438.5h0.9M463.6 432.5h0.9M460.6 436.6h0.9M464.6 443.1h0.9M473.0 427.0h0.9M473.1 432.0h0.9M475.7 424.4h0.9M464.4 432.1h0.9M464.6 429.7h0.9M466.9 431.7h0.9M459.4 436.0h0.9M465.2 437.7h0.9M471.5 428.5h0.9M475.2 423.6h0.9M471.4 428.4h0.9M471.6 422.1h0.9M476.7 422.3h0.9M467.3 436.9h0.9M467.4 429.9h0.9M463.0 435.5h0.9M470.2 436.7h0.9M464.6 432.5h0.9M470.1 424.1h0.9M463.4 436.0h0.9M462.9 430.8h0.9M468.7 425.4h0.9M469.2 433.1h0.9M475.6 424.5h0.9M462.5 432.5h0.9M467.7 421.5h0.9M465.4 434.2h0.9M467.6 435.5h0.9M458.1 435.2h0.9M469.6 421.8h0.9M471.3 425.8h0.9M463.6 439.3h0.9M477.8 424.5h0.9M470.7 430.0h0.9M470.8 423.3h0.9M464.9 429.4h0.9M473.7 414.1h0.9M467.0 431.4h0.9M469.3 432.6h0.9M468.4 433.6h0.9M461.1 431.9h0.9M467.4 431.1h0.9M467.0 428.9h0.9M462.2 430.9h0.9M462.8 443.2h0.9M470.6 431.2h0.9M469.1 432.3h0.9M475.8 422.8h0.9M463.6 436.3h0.9M461.6 440.1h0.9M473.0 425.3h0.9M463.6 436.8h0.9M456.6 447.9h0.9M467.6 434.6h0.9M467.9 431.4h0.9M468.9 422.2h0.9M461.9 435.0h0.9M466.0 432.5h0.9M469.3 424.7h0.9M475.0 419.4h0.9M468.4 435.8h0.9M464.6 429.0h0.9M467.5 428.3h0.9M466.1 430.6h0.9M469.9 425.8h0.9M463.3 432.1h0.9M461.7 434.7h0.9M460.5 437.0h0.9M471.3 432.0h0.9M472.2 427.9h0.9M472.6 425.7h0.9M466.2 427.8h0.9M466.0 435.6h0.9M470.2 425.4h0.9M461.4 440.5h0.9M466.3 428.7h0.9M453.0 440.3h0.9M454.0 437.7h0.9M458.1 438.9h0.9M445.3 446.1h0.9M457.3 437.0h0.9M437.9 451.0h0.9M447.5 447.3h0.9M458.3 439.4h0.9M436.2 455.5h0.9M456.1 437.6h0.9M439.0 452.6h0.9M450.7 440.3h0.9M455.6 439.5h0.9M451.3 443.5h0.9M440.9 452.7h0.9M445.9 443.7h0.9M439.7 451.6h0.9M457.7 436.9h0.9M440.9 450.9h0.9M436.8 455.7h0.9M445.5 446.5h0.9M451.2 442.7h0.9" stroke="#1c1c1c" stroke-width="0.9" fill="none"/>
<rect x="457.5" y="415.5" width="24.2" height="30" fill="none" stroke="#2a2a2a" stroke-width="1"/>
<text x="0" y="530.5" font-size="23" font-weight="bold" fill="#141414" stroke="#141414" stroke-width="0.3" textLength="15.5" lengthAdjust="spacingAndGlyphs">C</text>
<rect x="67" y="541" width="180" height="119.5" fill="none" stroke="#141414" stroke-width="1.6"/>
<path d="M67 540.2 V660.5 H247.8" fill="none" stroke="#141414" stroke-width="2.1"/>
<text x="64.2" y="664.8" font-size="12" font-weight="bold" fill="#141414" stroke="#141414" stroke-width="0.3" text-anchor="end">0</text>
<text x="64.2" y="640.9" font-size="12" font-weight="bold" fill="#141414" stroke="#141414" stroke-width="0.3" text-anchor="end">20</text>
<text x="64.2" y="617.0" font-size="12" font-weight="bold" fill="#141414" stroke="#141414" stroke-width="0.3" text-anchor="end">40</text>
<text x="64.2" y="593.1" font-size="12" font-weight="bold" fill="#141414" stroke="#141414" stroke-width="0.3" text-anchor="end">60</text>
<text x="64.2" y="569.2" font-size="12" font-weight="bold" fill="#141414" stroke="#141414" stroke-width="0.3" text-anchor="end">80</text>
<text x="64.2" y="545.3" font-size="12" font-weight="bold" fill="#141414" stroke="#141414" stroke-width="0.3" text-anchor="end">100</text>
<text x="64.6" y="675.8" font-size="12" font-weight="bold" fill="#141414" stroke="#141414" stroke-width="0.3" text-anchor="middle">0</text>
<text x="154.6" y="675.8" font-size="12" font-weight="bold" fill="#141414" stroke="#141414" stroke-width="0.3" text-anchor="middle">500</text>
<text x="244.6" y="675.8" font-size="12" font-weight="bold" fill="#141414" stroke="#141414" stroke-width="0.3" text-anchor="middle">1000</text>
<rect x="325.4" y="540.6" width="181.60000000000002" height="119.89999999999998" fill="none" stroke="#141414" stroke-width="1.6"/>
<path d="M325.4 539.8000000000001 V660.5 H507.8" fill="none" stroke="#141414" stroke-width="2.1"/>
<text x="320.0" y="664.8" font-size="12" font-weight="bold" fill="#141414" stroke="#141414" stroke-width="0.3" text-anchor="end">0</text>
<text x="320.0" y="640.8" font-size="12" font-weight="bold" fill="#141414" stroke="#141414" stroke-width="0.3" text-anchor="end">20</text>
<text x="320.0" y="616.8" font-size="12" font-weight="bold" fill="#141414" stroke="#141414" stroke-width="0.3" text-anchor="end">40</text>
<text x="320.0" y="592.9" font-size="12" font-weight="bold" fill="#141414" stroke="#141414" stroke-width="0.3" text-anchor="end">60</text>
<text x="320.0" y="568.9" font-size="12" font-weight="bold" fill="#141414" stroke="#141414" stroke-width="0.3" text-anchor="end">80</text>
<text x="320.0" y="544.9" font-size="12" font-weight="bold" fill="#141414" stroke="#141414" stroke-width="0.3" text-anchor="end">100</text>
<text x="323.0" y="675.8" font-size="12" font-weight="bold" fill="#141414" stroke="#141414" stroke-width="0.3" text-anchor="middle">0</text>
<text x="359.3" y="675.8" font-size="12" font-weight="bold" fill="#141414" stroke="#141414" stroke-width="0.3" text-anchor="middle">500</text>
<text x="395.6" y="675.8" font-size="12" font-weight="bold" fill="#141414" stroke="#141414" stroke-width="0.3" text-anchor="middle">1000</text>
<text x="432.0" y="675.8" font-size="12" font-weight="bold" fill="#141414" stroke="#141414" stroke-width="0.3" text-anchor="middle">1500</text>
<text x="468.3" y="675.8" font-size="12" font-weight="bold" fill="#141414" stroke="#141414" stroke-width="0.3" text-anchor="middle">2000</text>
<text x="504.6" y="675.8" font-size="12" font-weight="bold" fill="#141414" stroke="#141414" stroke-width="0.3" text-anchor="middle">2500</text>
<text x="120.5" y="533.6" font-size="13.5" font-weight="bold" fill="#141414" stroke="#141414" stroke-width="0.3" textLength="65.5" lengthAdjust="spacingAndGlyphs">B Lineage</text>
<text x="384" y="532.9" font-size="13.5" font-weight="bold" fill="#141414" stroke="#141414" stroke-width="0.3" textLength="75.4" lengthAdjust="spacingAndGlyphs">DC Lineage</text>
<text transform="translate(35.3 654.9) rotate(-90)" font-size="13.7" font-weight="bold" fill="#141414" stroke="#141414" stroke-width="0.3" textLength="113.8" lengthAdjust="spacingAndGlyphs">% Negative Wells</text>
<text transform="translate(292.9 655.4) rotate(-90)" font-size="13.7" font-weight="bold" fill="#141414" stroke="#141414" stroke-width="0.3" textLength="113.8" lengthAdjust="spacingAndGlyphs">% Negative Wells</text>
<text x="115.5" y="691" font-size="13.5" font-weight="bold" fill="#141414" stroke="#141414" stroke-width="0.3" textLength="59.5" lengthAdjust="spacingAndGlyphs">cells/well</text>
<text x="380.4" y="691" font-size="13.5" font-weight="bold" fill="#141414" stroke="#141414" stroke-width="0.3" textLength="56.1" lengthAdjust="spacingAndGlyphs">cells/well</text>
<rect x="183.9" y="548.9" width="4.2" height="4.2" fill="#141414"/>
<circle cx="186" cy="562" r="2.3" fill="#777"/>
<text x="191.4" y="554" font-size="10" font-weight="normal" fill="#141414"  textLength="38.5" lengthAdjust="spacingAndGlyphs">w/o CpG</text>
<text x="192.0" y="564.8" font-size="10" font-weight="normal" fill="#141414"  textLength="33.1" lengthAdjust="spacingAndGlyphs">w/ CpG</text>
<rect x="449.29999999999995" y="548.1999999999999" width="4.2" height="4.2" fill="#141414"/>
<circle cx="451.4" cy="560.6" r="2.3" fill="#777"/>
<text x="456.7" y="553.3" font-size="10" font-weight="normal" fill="#141414"  textLength="38.5" lengthAdjust="spacingAndGlyphs">w/o CpG</text>
<text x="457.3" y="563.4" font-size="10" font-weight="normal" fill="#141414"  textLength="33.1" lengthAdjust="spacingAndGlyphs">w/ CpG</text>
<path d="M67 541 L161.7 660.5" stroke="#7a7a7a" stroke-width="1.5" fill="none" />
<path d="M67.6 541 L69.4 660.5" stroke="#141414" stroke-width="1.7" fill="none" />
<path d="M67 614.8 L126.6 614.8" stroke="#141414" stroke-width="1.3" fill="none" stroke-dasharray="2.2 1.8"/>
<path d="M126.6 614.8 L126.6 660.5" stroke="#141414" stroke-width="1.3" fill="none" stroke-dasharray="2.2 1.8"/>
<circle cx="80.5" cy="570" r="1.7" fill="#808080"/>
<circle cx="95" cy="580.8" r="1.7" fill="#808080"/>
<circle cx="122.5" cy="630" r="1.7" fill="#808080"/>
<circle cx="179.2" cy="648" r="1.7" fill="#808080"/>
<circle cx="67.5" cy="541" r="2" fill="#777"/>
<rect x="66.1" y="598.5" width="3" height="3" fill="#141414"/>
<rect x="66.7" y="628.0" width="3" height="3" fill="#141414"/>
<rect x="69.5" y="658.8" width="3" height="3" fill="#141414"/>
<rect x="76.5" y="658.8" width="3" height="3" fill="#141414"/>
<text x="130.8" y="608.8" font-size="10" font-weight="bold" fill="#777" stroke="#777" stroke-width="0.3" textLength="24.2" lengthAdjust="spacingAndGlyphs">1:367</text>
<text x="74.5" y="648.7" font-size="10" font-weight="bold" fill="#141414" stroke="#141414" stroke-width="0.3" textLength="13.5" lengthAdjust="spacingAndGlyphs">1:3</text>
<path d="M325.4 541 L350.7 660.5" stroke="#7a7a7a" stroke-width="1.8" fill="none" />
<path d="M325.4 541 L439.8 660.5" stroke="#141414" stroke-width="1.8" fill="none" />
<path d="M325.4 615 L397.4 615" stroke="#141414" stroke-width="1.3" fill="none" stroke-dasharray="2.2 1.8"/>
<path d="M341.3 615 L341.3 660.5" stroke="#141414" stroke-width="1.3" fill="none" stroke-dasharray="2.2 1.8"/>
<path d="M397.4 615 L397.4 660.5" stroke="#141414" stroke-width="1.3" fill="none" stroke-dasharray="2.2 1.8"/>
<circle cx="330.5" cy="570" r="1.7" fill="#8c8c8c"/>
<circle cx="336.2" cy="600.2" r="1.7" fill="#8c8c8c"/>
<circle cx="347.5" cy="630.4" r="1.7" fill="#8c8c8c"/>
<circle cx="326" cy="541" r="2" fill="#777"/>
<rect x="345.8" y="568.3" width="3.4" height="3.4" fill="#141414"/>
<rect x="390.90000000000003" y="598.5" width="3.4" height="3.4" fill="#141414"/>
<rect x="416.8" y="619.3" width="3.4" height="3.4" fill="#141414"/>
<text x="403.7" y="583.5" font-size="10" font-weight="bold" fill="#141414" stroke="#141414" stroke-width="0.3" textLength="24.8" lengthAdjust="spacingAndGlyphs">1:962</text>
<text x="353.4" y="647.9" font-size="10" font-weight="bold" fill="#777" stroke="#777" stroke-width="0.3" textLength="24.3" lengthAdjust="spacingAndGlyphs">1:207</text>
</svg>
</body></html>
